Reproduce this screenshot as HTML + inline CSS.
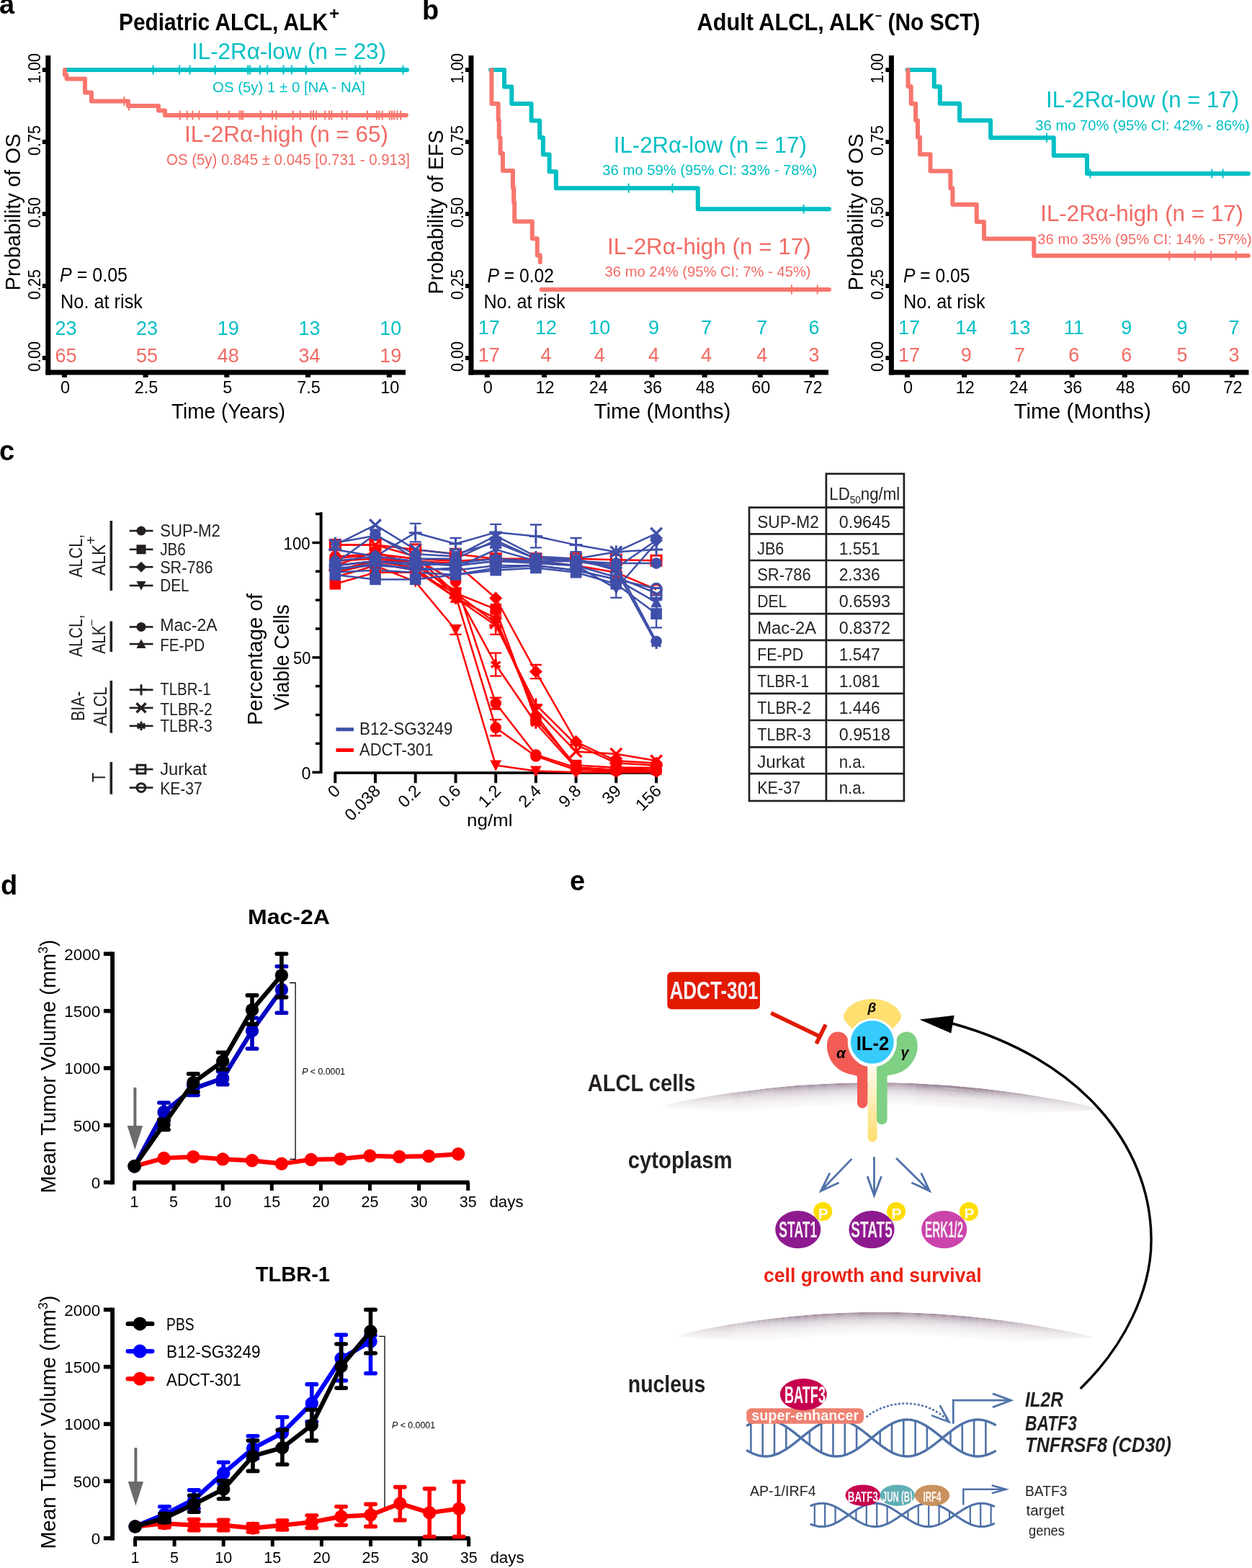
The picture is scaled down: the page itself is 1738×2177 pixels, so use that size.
<!DOCTYPE html>
<html><head><meta charset="utf-8"><title>Figure</title>
<style>
html,body{margin:0;padding:0;background:#fff;}
svg{display:block;}
text{font-family:"Liberation Sans", Arial, sans-serif;}
</style></head><body>
<svg width="1738" height="2177" viewBox="0 0 1738 2177">
<rect width="1738" height="2177" fill="#fff"/>
<text x="-1.0" y="19.0" font-size="38" fill="#000" font-weight="bold" >a</text>
<text x="165.0" y="42.0" font-size="33" fill="#000" font-weight="bold" textLength="290.0" lengthAdjust="spacingAndGlyphs" >Pediatric ALCL, ALK</text>
<text x="457.0" y="27.0" font-size="24" fill="#000" font-weight="bold" >+</text>
<rect x="63.3" y="77.0" width="7.0" height="443.5" fill="#000" />
<rect x="63.3" y="513.5" width="499.7" height="7.0" fill="#000" />
<rect x="58.8" y="94.0" width="5.0" height="6.0" fill="#000" />
<text transform="translate(55.8,95.0) rotate(-90)" font-size="24" fill="#000" text-anchor="middle" textLength="42.0" lengthAdjust="spacingAndGlyphs" >1.00</text>
<rect x="58.8" y="194.0" width="5.0" height="6.0" fill="#000" />
<text transform="translate(55.8,195.0) rotate(-90)" font-size="24" fill="#000" text-anchor="middle" textLength="42.0" lengthAdjust="spacingAndGlyphs" >0.75</text>
<rect x="58.8" y="294.0" width="5.0" height="6.0" fill="#000" />
<text transform="translate(55.8,295.0) rotate(-90)" font-size="24" fill="#000" text-anchor="middle" textLength="42.0" lengthAdjust="spacingAndGlyphs" >0.50</text>
<rect x="58.8" y="394.0" width="5.0" height="6.0" fill="#000" />
<text transform="translate(55.8,395.0) rotate(-90)" font-size="24" fill="#000" text-anchor="middle" textLength="42.0" lengthAdjust="spacingAndGlyphs" >0.25</text>
<rect x="58.8" y="494.0" width="5.0" height="6.0" fill="#000" />
<text transform="translate(55.8,495.0) rotate(-90)" font-size="24" fill="#000" text-anchor="middle" textLength="42.0" lengthAdjust="spacingAndGlyphs" >0.00</text>
<rect x="86.0" y="519.0" width="7.0" height="5.0" fill="#000" />
<text x="90.5" y="546.0" font-size="23.5" fill="#000" text-anchor="middle" >0</text>
<rect x="198.6" y="519.0" width="7.0" height="5.0" fill="#000" />
<text x="203.1" y="546.0" font-size="23.5" fill="#000" text-anchor="middle" >2.5</text>
<rect x="311.3" y="519.0" width="7.0" height="5.0" fill="#000" />
<text x="315.8" y="546.0" font-size="23.5" fill="#000" text-anchor="middle" >5</text>
<rect x="424.0" y="519.0" width="7.0" height="5.0" fill="#000" />
<text x="428.5" y="546.0" font-size="23.5" fill="#000" text-anchor="middle" >7.5</text>
<rect x="536.8" y="519.0" width="7.0" height="5.0" fill="#000" />
<text x="541.3" y="546.0" font-size="23.5" fill="#000" text-anchor="middle" >10</text>
<text transform="translate(27.8,294.5) rotate(-90)" font-size="30" fill="#000" text-anchor="middle" textLength="218.0" lengthAdjust="spacingAndGlyphs" >Probability of OS</text>
<text x="238.0" y="580.5" font-size="30" fill="#000" textLength="158.0" lengthAdjust="spacingAndGlyphs" >Time (Years)</text>
<path d="M90.5 97 H565" stroke="#00BFC4" stroke-width="6" fill="none" stroke-linejoin="round" stroke-linecap="round"/>
<line x1="212.6" y1="90.5" x2="212.6" y2="103.5" stroke="#00BFC4" stroke-width="2" />
<line x1="249.1" y1="90.5" x2="249.1" y2="103.5" stroke="#00BFC4" stroke-width="2" />
<line x1="263.5" y1="90.5" x2="263.5" y2="103.5" stroke="#00BFC4" stroke-width="2" />
<line x1="298.6" y1="90.5" x2="298.6" y2="103.5" stroke="#00BFC4" stroke-width="2" />
<line x1="344.2" y1="90.5" x2="344.2" y2="103.5" stroke="#00BFC4" stroke-width="2" />
<line x1="346.9" y1="90.5" x2="346.9" y2="103.5" stroke="#00BFC4" stroke-width="2" />
<line x1="360.8" y1="90.5" x2="360.8" y2="103.5" stroke="#00BFC4" stroke-width="2" />
<line x1="371.2" y1="90.5" x2="371.2" y2="103.5" stroke="#00BFC4" stroke-width="2" />
<line x1="393.6" y1="90.5" x2="393.6" y2="103.5" stroke="#00BFC4" stroke-width="2" />
<line x1="404.8" y1="90.5" x2="404.8" y2="103.5" stroke="#00BFC4" stroke-width="2" />
<line x1="424.8" y1="90.5" x2="424.8" y2="103.5" stroke="#00BFC4" stroke-width="2" />
<line x1="493.5" y1="90.5" x2="493.5" y2="103.5" stroke="#00BFC4" stroke-width="2" />
<line x1="499.5" y1="90.5" x2="499.5" y2="103.5" stroke="#00BFC4" stroke-width="2" />
<line x1="559.5" y1="90.5" x2="559.5" y2="103.5" stroke="#00BFC4" stroke-width="2" />
<path d="M90 97 V104 H92.5 V109.5 H118 V128.5 H127 V140.5 H178 V147 H220 V153.5 H229 V160 H564" stroke="#F8766D" stroke-width="6" fill="none" stroke-linejoin="round" stroke-linecap="round"/>
<line x1="172.5" y1="134.0" x2="172.5" y2="147.0" stroke="#F8766D" stroke-width="2" />
<line x1="179.0" y1="140.5" x2="179.0" y2="153.5" stroke="#F8766D" stroke-width="2" />
<line x1="250.0" y1="153.5" x2="250.0" y2="166.5" stroke="#F8766D" stroke-width="2" />
<line x1="259.7" y1="153.5" x2="259.7" y2="166.5" stroke="#F8766D" stroke-width="2" />
<line x1="267.4" y1="153.5" x2="267.4" y2="166.5" stroke="#F8766D" stroke-width="2" />
<line x1="276.4" y1="153.5" x2="276.4" y2="166.5" stroke="#F8766D" stroke-width="2" />
<line x1="301.5" y1="153.5" x2="301.5" y2="166.5" stroke="#F8766D" stroke-width="2" />
<line x1="317.8" y1="153.5" x2="317.8" y2="166.5" stroke="#F8766D" stroke-width="2" />
<line x1="332.5" y1="153.5" x2="332.5" y2="166.5" stroke="#F8766D" stroke-width="2" />
<line x1="335.0" y1="153.5" x2="335.0" y2="166.5" stroke="#F8766D" stroke-width="2" />
<line x1="337.4" y1="153.5" x2="337.4" y2="166.5" stroke="#F8766D" stroke-width="2" />
<line x1="361.8" y1="153.5" x2="361.8" y2="166.5" stroke="#F8766D" stroke-width="2" />
<line x1="378.1" y1="153.5" x2="378.1" y2="166.5" stroke="#F8766D" stroke-width="2" />
<line x1="383.5" y1="153.5" x2="383.5" y2="166.5" stroke="#F8766D" stroke-width="2" />
<line x1="406.6" y1="153.5" x2="406.6" y2="166.5" stroke="#F8766D" stroke-width="2" />
<line x1="416.8" y1="153.5" x2="416.8" y2="166.5" stroke="#F8766D" stroke-width="2" />
<line x1="431.5" y1="153.5" x2="431.5" y2="166.5" stroke="#F8766D" stroke-width="2" />
<line x1="435.0" y1="153.5" x2="435.0" y2="166.5" stroke="#F8766D" stroke-width="2" />
<line x1="439.1" y1="153.5" x2="439.1" y2="166.5" stroke="#F8766D" stroke-width="2" />
<line x1="451.3" y1="153.5" x2="451.3" y2="166.5" stroke="#F8766D" stroke-width="2" />
<line x1="457.0" y1="153.5" x2="457.0" y2="166.5" stroke="#F8766D" stroke-width="2" />
<line x1="460.3" y1="153.5" x2="460.3" y2="166.5" stroke="#F8766D" stroke-width="2" />
<line x1="474.9" y1="153.5" x2="474.9" y2="166.5" stroke="#F8766D" stroke-width="2" />
<line x1="481.4" y1="153.5" x2="481.4" y2="166.5" stroke="#F8766D" stroke-width="2" />
<line x1="509.9" y1="153.5" x2="509.9" y2="166.5" stroke="#F8766D" stroke-width="2" />
<line x1="522.9" y1="153.5" x2="522.9" y2="166.5" stroke="#F8766D" stroke-width="2" />
<line x1="526.2" y1="153.5" x2="526.2" y2="166.5" stroke="#F8766D" stroke-width="2" />
<line x1="530.7" y1="153.5" x2="530.7" y2="166.5" stroke="#F8766D" stroke-width="2" />
<line x1="540.8" y1="153.5" x2="540.8" y2="166.5" stroke="#F8766D" stroke-width="2" />
<line x1="544.0" y1="153.5" x2="544.0" y2="166.5" stroke="#F8766D" stroke-width="2" />
<line x1="547.2" y1="153.5" x2="547.2" y2="166.5" stroke="#F8766D" stroke-width="2" />
<line x1="551.4" y1="153.5" x2="551.4" y2="166.5" stroke="#F8766D" stroke-width="2" />
<line x1="556.2" y1="153.5" x2="556.2" y2="166.5" stroke="#F8766D" stroke-width="2" />
<text x="266.0" y="82.0" font-size="32" fill="#00BFC4" textLength="270.0" lengthAdjust="spacingAndGlyphs" >IL-2Rα-low (n = 23)</text>
<text x="295.0" y="128.0" font-size="21" fill="#00BFC4" textLength="212.0" lengthAdjust="spacingAndGlyphs" >OS (5y) 1 ± 0 [NA - NA]</text>
<text x="256.0" y="197.2" font-size="31.5" fill="#F26A64" textLength="283.0" lengthAdjust="spacingAndGlyphs" >IL-2Rα-high (n = 65)</text>
<text x="231.0" y="229.2" font-size="22" fill="#F26A64" textLength="338.0" lengthAdjust="spacingAndGlyphs" >OS (5y) 0.845 ± 0.045 [0.731 - 0.913]</text>
<text x="83.0" y="391.2" font-size="27.5" fill="#000" textLength="94.0" lengthAdjust="spacingAndGlyphs" ><tspan font-style="italic">P</tspan> = 0.05</text>
<text x="84.0" y="428.0" font-size="27.5" fill="#000" textLength="114.0" lengthAdjust="spacingAndGlyphs" >No. at risk</text>
<text x="91.5" y="464.5" font-size="27" fill="#00BFC4" text-anchor="middle" >23</text>
<text x="91.5" y="502.5" font-size="27" fill="#F26A64" text-anchor="middle" >65</text>
<text x="204.1" y="464.5" font-size="27" fill="#00BFC4" text-anchor="middle" >23</text>
<text x="204.1" y="502.5" font-size="27" fill="#F26A64" text-anchor="middle" >55</text>
<text x="316.8" y="464.5" font-size="27" fill="#00BFC4" text-anchor="middle" >19</text>
<text x="316.8" y="502.5" font-size="27" fill="#F26A64" text-anchor="middle" >48</text>
<text x="429.5" y="464.5" font-size="27" fill="#00BFC4" text-anchor="middle" >13</text>
<text x="429.5" y="502.5" font-size="27" fill="#F26A64" text-anchor="middle" >34</text>
<text x="542.3" y="464.5" font-size="27" fill="#00BFC4" text-anchor="middle" >10</text>
<text x="542.3" y="502.5" font-size="27" fill="#F26A64" text-anchor="middle" >19</text>
<text x="586.0" y="27.0" font-size="38" fill="#000" font-weight="bold" >b</text>
<text x="967.6" y="42.0" font-size="33" fill="#000" font-weight="bold" textLength="246.5" lengthAdjust="spacingAndGlyphs" >Adult ALCL, ALK</text>
<text x="1215.0" y="27.0" font-size="18" fill="#000" font-weight="bold" textLength="9.0" lengthAdjust="spacingAndGlyphs" >–</text>
<text x="1232.5" y="42.0" font-size="33" fill="#000" font-weight="bold" textLength="128.0" lengthAdjust="spacingAndGlyphs" >(No SCT)</text>
<rect x="650.5" y="77.0" width="7.0" height="443.5" fill="#000" />
<rect x="650.5" y="513.5" width="499.5" height="7.0" fill="#000" />
<rect x="646.0" y="94.0" width="5.0" height="6.0" fill="#000" />
<text transform="translate(643.0,95.0) rotate(-90)" font-size="24" fill="#000" text-anchor="middle" textLength="42.0" lengthAdjust="spacingAndGlyphs" >1.00</text>
<rect x="646.0" y="194.0" width="5.0" height="6.0" fill="#000" />
<text transform="translate(643.0,195.0) rotate(-90)" font-size="24" fill="#000" text-anchor="middle" textLength="42.0" lengthAdjust="spacingAndGlyphs" >0.75</text>
<rect x="646.0" y="294.0" width="5.0" height="6.0" fill="#000" />
<text transform="translate(643.0,295.0) rotate(-90)" font-size="24" fill="#000" text-anchor="middle" textLength="42.0" lengthAdjust="spacingAndGlyphs" >0.50</text>
<rect x="646.0" y="394.0" width="5.0" height="6.0" fill="#000" />
<text transform="translate(643.0,395.0) rotate(-90)" font-size="24" fill="#000" text-anchor="middle" textLength="42.0" lengthAdjust="spacingAndGlyphs" >0.25</text>
<rect x="646.0" y="494.0" width="5.0" height="6.0" fill="#000" />
<text transform="translate(643.0,495.0) rotate(-90)" font-size="24" fill="#000" text-anchor="middle" textLength="42.0" lengthAdjust="spacingAndGlyphs" >0.00</text>
<rect x="672.8" y="519.0" width="7.0" height="5.0" fill="#000" />
<text x="677.3" y="546.0" font-size="23.5" fill="#000" text-anchor="middle" >0</text>
<rect x="752.0" y="519.0" width="7.0" height="5.0" fill="#000" />
<text x="756.5" y="546.0" font-size="23.5" fill="#000" text-anchor="middle" >12</text>
<rect x="826.3" y="519.0" width="7.0" height="5.0" fill="#000" />
<text x="830.8" y="546.0" font-size="23.5" fill="#000" text-anchor="middle" >24</text>
<rect x="901.5" y="519.0" width="7.0" height="5.0" fill="#000" />
<text x="906.0" y="546.0" font-size="23.5" fill="#000" text-anchor="middle" >36</text>
<rect x="974.6" y="519.0" width="7.0" height="5.0" fill="#000" />
<text x="979.1" y="546.0" font-size="23.5" fill="#000" text-anchor="middle" >48</text>
<rect x="1051.8" y="519.0" width="7.0" height="5.0" fill="#000" />
<text x="1056.3" y="546.0" font-size="23.5" fill="#000" text-anchor="middle" >60</text>
<rect x="1123.9" y="519.0" width="7.0" height="5.0" fill="#000" />
<text x="1128.4" y="546.0" font-size="23.5" fill="#000" text-anchor="middle" >72</text>
<text transform="translate(615.0,294.5) rotate(-90)" font-size="30" fill="#000" text-anchor="middle" textLength="228.0" lengthAdjust="spacingAndGlyphs" >Probability of EFS</text>
<text x="824.4" y="580.5" font-size="30" fill="#000" textLength="190.0" lengthAdjust="spacingAndGlyphs" >Time (Months)</text>
<path d="M681 97 H700 V120.5 H710.3 V144 H737.6 V167.6 H749.2 V191 H753.9 V214.6 H762.6 V238.2 H771.9 V261.2 H968.8 V290.3 H1151" stroke="#00BFC4" stroke-width="6" fill="none" stroke-linejoin="round" stroke-linecap="round"/>
<line x1="872.7" y1="254.7" x2="872.7" y2="267.7" stroke="#00BFC4" stroke-width="2" />
<line x1="933.5" y1="254.7" x2="933.5" y2="267.7" stroke="#00BFC4" stroke-width="2" />
<line x1="1115.6" y1="283.8" x2="1115.6" y2="296.8" stroke="#00BFC4" stroke-width="2" />
<path d="M682.4 97 V144 H691.7 V167 H692.7 V191 H694.6 V213 H698 V237 H712 V261 H713.2 V281 H714.2 V307.5 H738.8 V331.3 H745.8 V354.6 H749.8 V364" stroke="#F8766D" stroke-width="6" fill="none" stroke-linejoin="round" stroke-linecap="round"/>
<path d="M751.6 402 H1151" stroke="#F8766D" stroke-width="6" fill="none" stroke-linejoin="round" stroke-linecap="round"/>
<line x1="1099.0" y1="395.5" x2="1099.0" y2="408.5" stroke="#F8766D" stroke-width="2" />
<line x1="1134.8" y1="395.5" x2="1134.8" y2="408.5" stroke="#F8766D" stroke-width="2" />
<text x="851.8" y="211.9" font-size="32" fill="#00BFC4" textLength="268.0" lengthAdjust="spacingAndGlyphs" >IL-2Rα-low (n = 17)</text>
<text x="836.3" y="242.8" font-size="21" fill="#00BFC4" textLength="298.0" lengthAdjust="spacingAndGlyphs" >36 mo 59% (95% CI: 33% - 78%)</text>
<text x="843.0" y="353.2" font-size="31.5" fill="#F26A64" textLength="282.6" lengthAdjust="spacingAndGlyphs" >IL-2Rα-high (n = 17)</text>
<text x="839.6" y="384.1" font-size="21" fill="#F26A64" textLength="286.0" lengthAdjust="spacingAndGlyphs" >36 mo 24% (95% CI: 7% - 45%)</text>
<text x="676.6" y="391.8" font-size="27.5" fill="#000" textLength="92.4" lengthAdjust="spacingAndGlyphs" ><tspan font-style="italic">P</tspan> = 0.02</text>
<text x="671.4" y="427.8" font-size="27.5" fill="#000" textLength="113.3" lengthAdjust="spacingAndGlyphs" >No. at risk</text>
<text x="678.8" y="464.0" font-size="27" fill="#00BFC4" text-anchor="middle" >17</text>
<text x="678.8" y="501.5" font-size="27" fill="#F26A64" text-anchor="middle" >17</text>
<text x="758.0" y="464.0" font-size="27" fill="#00BFC4" text-anchor="middle" >12</text>
<text x="758.0" y="501.5" font-size="27" fill="#F26A64" text-anchor="middle" >4</text>
<text x="832.3" y="464.0" font-size="27" fill="#00BFC4" text-anchor="middle" >10</text>
<text x="832.3" y="501.5" font-size="27" fill="#F26A64" text-anchor="middle" >4</text>
<text x="907.5" y="464.0" font-size="27" fill="#00BFC4" text-anchor="middle" >9</text>
<text x="907.5" y="501.5" font-size="27" fill="#F26A64" text-anchor="middle" >4</text>
<text x="980.6" y="464.0" font-size="27" fill="#00BFC4" text-anchor="middle" >7</text>
<text x="980.6" y="501.5" font-size="27" fill="#F26A64" text-anchor="middle" >4</text>
<text x="1057.8" y="464.0" font-size="27" fill="#00BFC4" text-anchor="middle" >7</text>
<text x="1057.8" y="501.5" font-size="27" fill="#F26A64" text-anchor="middle" >4</text>
<text x="1129.9" y="464.0" font-size="27" fill="#00BFC4" text-anchor="middle" >6</text>
<text x="1129.9" y="501.5" font-size="27" fill="#F26A64" text-anchor="middle" >3</text>
<rect x="1233.9" y="77.0" width="7.0" height="443.5" fill="#000" />
<rect x="1233.9" y="513.5" width="499.6" height="7.0" fill="#000" />
<rect x="1229.4" y="94.0" width="5.0" height="6.0" fill="#000" />
<text transform="translate(1226.4,95.0) rotate(-90)" font-size="24" fill="#000" text-anchor="middle" textLength="42.0" lengthAdjust="spacingAndGlyphs" >1.00</text>
<rect x="1229.4" y="194.0" width="5.0" height="6.0" fill="#000" />
<text transform="translate(1226.4,195.0) rotate(-90)" font-size="24" fill="#000" text-anchor="middle" textLength="42.0" lengthAdjust="spacingAndGlyphs" >0.75</text>
<rect x="1229.4" y="294.0" width="5.0" height="6.0" fill="#000" />
<text transform="translate(1226.4,295.0) rotate(-90)" font-size="24" fill="#000" text-anchor="middle" textLength="42.0" lengthAdjust="spacingAndGlyphs" >0.50</text>
<rect x="1229.4" y="394.0" width="5.0" height="6.0" fill="#000" />
<text transform="translate(1226.4,395.0) rotate(-90)" font-size="24" fill="#000" text-anchor="middle" textLength="42.0" lengthAdjust="spacingAndGlyphs" >0.25</text>
<rect x="1229.4" y="494.0" width="5.0" height="6.0" fill="#000" />
<text transform="translate(1226.4,495.0) rotate(-90)" font-size="24" fill="#000" text-anchor="middle" textLength="42.0" lengthAdjust="spacingAndGlyphs" >0.00</text>
<rect x="1256.0" y="519.0" width="7.0" height="5.0" fill="#000" />
<text x="1260.5" y="546.0" font-size="23.5" fill="#000" text-anchor="middle" >0</text>
<rect x="1335.2" y="519.0" width="7.0" height="5.0" fill="#000" />
<text x="1339.7" y="546.0" font-size="23.5" fill="#000" text-anchor="middle" >12</text>
<rect x="1409.5" y="519.0" width="7.0" height="5.0" fill="#000" />
<text x="1414.0" y="546.0" font-size="23.5" fill="#000" text-anchor="middle" >24</text>
<rect x="1484.7" y="519.0" width="7.0" height="5.0" fill="#000" />
<text x="1489.2" y="546.0" font-size="23.5" fill="#000" text-anchor="middle" >36</text>
<rect x="1557.8" y="519.0" width="7.0" height="5.0" fill="#000" />
<text x="1562.3" y="546.0" font-size="23.5" fill="#000" text-anchor="middle" >48</text>
<rect x="1635.0" y="519.0" width="7.0" height="5.0" fill="#000" />
<text x="1639.5" y="546.0" font-size="23.5" fill="#000" text-anchor="middle" >60</text>
<rect x="1707.1" y="519.0" width="7.0" height="5.0" fill="#000" />
<text x="1711.6" y="546.0" font-size="23.5" fill="#000" text-anchor="middle" >72</text>
<text transform="translate(1198.4,294.5) rotate(-90)" font-size="30" fill="#000" text-anchor="middle" textLength="218.0" lengthAdjust="spacingAndGlyphs" >Probability of OS</text>
<text x="1407.4" y="580.5" font-size="30" fill="#000" textLength="190.4" lengthAdjust="spacingAndGlyphs" >Time (Months)</text>
<path d="M1259.5 97 H1296.7 V120.3 H1304.8 V143.8 H1332.1 V167.3 H1375.1 V191.3 H1462.8 V215.9 H1509 V241 H1733" stroke="#00BFC4" stroke-width="6" fill="none" stroke-linejoin="round" stroke-linecap="round"/>
<line x1="1453.0" y1="184.8" x2="1453.0" y2="197.8" stroke="#00BFC4" stroke-width="2" />
<line x1="1513.5" y1="234.5" x2="1513.5" y2="247.5" stroke="#00BFC4" stroke-width="2" />
<line x1="1682.2" y1="234.5" x2="1682.2" y2="247.5" stroke="#00BFC4" stroke-width="2" />
<line x1="1697.5" y1="234.5" x2="1697.5" y2="247.5" stroke="#00BFC4" stroke-width="2" />
<path d="M1260.5 97 V120 H1264.7 V143.9 H1271.1 V167.2 H1274 V190.4 H1277 V214.2 H1291.5 V237.5 H1319.4 V261.3 H1322.4 V284.1 H1355.8 V308.1 H1366 V331.6 H1435.3 V354.9 H1733" stroke="#F8766D" stroke-width="6" fill="none" stroke-linejoin="round" stroke-linecap="round"/>
<line x1="1623.3" y1="348.4" x2="1623.3" y2="361.4" stroke="#F8766D" stroke-width="2" />
<line x1="1658.6" y1="348.4" x2="1658.6" y2="361.4" stroke="#F8766D" stroke-width="2" />
<line x1="1681.2" y1="348.4" x2="1681.2" y2="361.4" stroke="#F8766D" stroke-width="2" />
<line x1="1715.8" y1="348.4" x2="1715.8" y2="361.4" stroke="#F8766D" stroke-width="2" />
<text x="1452.0" y="149.1" font-size="32" fill="#00BFC4" textLength="268.0" lengthAdjust="spacingAndGlyphs" >IL-2Rα-low (n = 17)</text>
<text x="1437.3" y="180.5" font-size="21" fill="#00BFC4" textLength="297.5" lengthAdjust="spacingAndGlyphs" >36 mo 70% (95% CI: 42% - 86%)</text>
<text x="1444.2" y="307.2" font-size="31.5" fill="#F26A64" textLength="281.8" lengthAdjust="spacingAndGlyphs" >IL-2Rα-high (n = 17)</text>
<text x="1440.3" y="338.6" font-size="21" fill="#F26A64" textLength="297.5" lengthAdjust="spacingAndGlyphs" >36 mo 35% (95% CI: 14% - 57%)</text>
<text x="1254.1" y="391.6" font-size="27.5" fill="#000" textLength="92.3" lengthAdjust="spacingAndGlyphs" ><tspan font-style="italic">P</tspan> = 0.05</text>
<text x="1254.0" y="427.5" font-size="27.5" fill="#000" textLength="113.6" lengthAdjust="spacingAndGlyphs" >No. at risk</text>
<text x="1262.0" y="464.0" font-size="27" fill="#00BFC4" text-anchor="middle" >17</text>
<text x="1262.0" y="501.5" font-size="27" fill="#F26A64" text-anchor="middle" >17</text>
<text x="1341.2" y="464.0" font-size="27" fill="#00BFC4" text-anchor="middle" >14</text>
<text x="1341.2" y="501.5" font-size="27" fill="#F26A64" text-anchor="middle" >9</text>
<text x="1415.5" y="464.0" font-size="27" fill="#00BFC4" text-anchor="middle" >13</text>
<text x="1415.5" y="501.5" font-size="27" fill="#F26A64" text-anchor="middle" >7</text>
<text x="1490.7" y="464.0" font-size="27" fill="#00BFC4" text-anchor="middle" >11</text>
<text x="1490.7" y="501.5" font-size="27" fill="#F26A64" text-anchor="middle" >6</text>
<text x="1563.8" y="464.0" font-size="27" fill="#00BFC4" text-anchor="middle" >9</text>
<text x="1563.8" y="501.5" font-size="27" fill="#F26A64" text-anchor="middle" >6</text>
<text x="1641.0" y="464.0" font-size="27" fill="#00BFC4" text-anchor="middle" >9</text>
<text x="1641.0" y="501.5" font-size="27" fill="#F26A64" text-anchor="middle" >5</text>
<text x="1713.1" y="464.0" font-size="27" fill="#00BFC4" text-anchor="middle" >7</text>
<text x="1713.1" y="501.5" font-size="27" fill="#F26A64" text-anchor="middle" >3</text>
<text x="-1.0" y="638.5" font-size="38" fill="#000" font-weight="bold" >c</text>
<rect x="152.5" y="723.0" width="3.6" height="97.0" fill="#231F20" />
<rect x="152.5" y="862.5" width="3.6" height="42.5" fill="#231F20" />
<rect x="152.5" y="945.0" width="3.6" height="72.6" fill="#231F20" />
<rect x="152.5" y="1058.0" width="3.6" height="44.7" fill="#231F20" />
<text transform="translate(114.2,771.8) rotate(-90)" font-size="26" fill="#231F20" text-anchor="middle" textLength="60.0" lengthAdjust="spacingAndGlyphs" >ALCL,</text>
<text transform="translate(146.2,777.4) rotate(-90)" font-size="26" fill="#231F20" text-anchor="middle" textLength="43.2" lengthAdjust="spacingAndGlyphs" >ALK</text>
<text transform="translate(133.0,750.2) rotate(-90)" font-size="20" fill="#231F20" text-anchor="middle" >+</text>
<text transform="translate(114.2,882.7) rotate(-90)" font-size="26" fill="#231F20" text-anchor="middle" textLength="58.6" lengthAdjust="spacingAndGlyphs" >ALCL,</text>
<text transform="translate(146.2,888.0) rotate(-90)" font-size="26" fill="#231F20" text-anchor="middle" textLength="39.5" lengthAdjust="spacingAndGlyphs" >ALK</text>
<text transform="translate(131.0,864.5) rotate(-90)" font-size="15" fill="#231F20" text-anchor="middle" >–</text>
<text transform="translate(117.0,980.3) rotate(-90)" font-size="26" fill="#231F20" text-anchor="middle" textLength="41.2" lengthAdjust="spacingAndGlyphs" >BIA-</text>
<text transform="translate(148.3,980.7) rotate(-90)" font-size="26" fill="#231F20" text-anchor="middle" textLength="54.4" lengthAdjust="spacingAndGlyphs" >ALCL</text>
<text transform="translate(145.5,1079.4) rotate(-90)" font-size="26" fill="#231F20" text-anchor="middle" textLength="13.3" lengthAdjust="spacingAndGlyphs" >T</text>
<rect x="179.7" y="735.7" width="32.8" height="2.6" fill="#231F20" />
<circle cx="196.0" cy="737.0" r="6.5" fill="#231F20"/>
<text x="222.2" y="744.6" font-size="24.3" fill="#231F20" textLength="83.7" lengthAdjust="spacingAndGlyphs" >SUP-M2</text>
<rect x="179.7" y="761.5" width="32.8" height="2.6" fill="#231F20" />
<rect x="189.5" y="756.3" width="13.0" height="13.0" fill="#231F20"/>
<text x="222.2" y="771.1" font-size="24.3" fill="#231F20" textLength="35.6" lengthAdjust="spacingAndGlyphs" >JB6</text>
<rect x="179.7" y="785.9" width="32.8" height="2.6" fill="#231F20" />
<path d="M196.0 779.7 L203.5 787.2 L196.0 794.7 L188.5 787.2Z" fill="#231F20"/>
<text x="222.2" y="796.2" font-size="24.3" fill="#231F20" textLength="73.3" lengthAdjust="spacingAndGlyphs" >SR-786</text>
<rect x="179.7" y="811.7" width="32.8" height="2.6" fill="#231F20" />
<path d="M189.5 807.1 L202.5 807.1 L196.0 819.8Z" fill="#231F20"/>
<text x="222.2" y="821.3" font-size="24.3" fill="#231F20" textLength="40.4" lengthAdjust="spacingAndGlyphs" >DEL</text>
<rect x="179.7" y="869.1" width="32.8" height="2.6" fill="#231F20" />
<circle cx="196.0" cy="870.4" r="6.5" fill="#231F20"/>
<text x="222.2" y="876.4" font-size="24.3" fill="#231F20" textLength="79.4" lengthAdjust="spacingAndGlyphs" >Mac-2A</text>
<rect x="179.7" y="892.8" width="32.8" height="2.6" fill="#231F20" />
<path d="M189.5 900.0 L202.5 900.0 L196.0 887.3Z" fill="#231F20"/>
<text x="222.2" y="904.3" font-size="24.3" fill="#231F20" textLength="62.0" lengthAdjust="spacingAndGlyphs" >FE-PD</text>
<rect x="179.7" y="956.4" width="32.8" height="2.6" fill="#231F20" />
<path d="M188.5 957.7 H203.5 M196.0 950.2 V965.2" stroke="#231F20" stroke-width="3.0"/>
<text x="222.2" y="965.3" font-size="24.3" fill="#231F20" textLength="70.5" lengthAdjust="spacingAndGlyphs" >TLBR-1</text>
<rect x="179.7" y="981.5" width="32.8" height="2.6" fill="#231F20" />
<path d="M189.5 976.3 L202.5 989.3 M202.5 976.3 L189.5 989.3" stroke="#231F20" stroke-width="3.4"/>
<text x="222.2" y="992.5" font-size="24.3" fill="#231F20" textLength="72.5" lengthAdjust="spacingAndGlyphs" >TLBR-2</text>
<rect x="179.7" y="1006.6" width="32.8" height="2.6" fill="#231F20" />
<path d="M196.0 1001.7 L196.0 1014.1 M190.7 1004.8 L201.3 1011.0 M190.7 1011.0 L201.3 1004.8 " stroke="#231F20" stroke-width="3.2"/>
<text x="222.2" y="1016.2" font-size="24.3" fill="#231F20" textLength="72.5" lengthAdjust="spacingAndGlyphs" >TLBR-3</text>
<rect x="179.7" y="1066.8" width="32.8" height="2.6" fill="#231F20" />
<rect x="190.2" y="1062.2" width="11.7" height="11.7" fill="none" stroke="#231F20" stroke-width="3.0"/>
<text x="222.2" y="1076.2" font-size="24.3" fill="#231F20" textLength="64.9" lengthAdjust="spacingAndGlyphs" >Jurkat</text>
<rect x="179.7" y="1092.3" width="32.8" height="2.6" fill="#231F20" />
<circle cx="196.0" cy="1093.6" r="5.9" fill="none" stroke="#231F20" stroke-width="3.0"/>
<text x="222.2" y="1102.7" font-size="24.3" fill="#231F20" textLength="58.5" lengthAdjust="spacingAndGlyphs" >KE-37</text>
<rect x="443.6" y="711.2" width="4.0" height="362.7" fill="#000" />
<rect x="433.4" y="1070.5" width="11.0" height="3.5" fill="#000" />
<rect x="437.9" y="1030.6" width="6.5" height="3.5" fill="#000" />
<rect x="437.9" y="990.8" width="6.5" height="3.5" fill="#000" />
<rect x="437.9" y="950.9" width="6.5" height="3.5" fill="#000" />
<rect x="433.4" y="911.1" width="11.0" height="3.5" fill="#000" />
<rect x="437.9" y="871.2" width="6.5" height="3.5" fill="#000" />
<rect x="437.9" y="831.4" width="6.5" height="3.5" fill="#000" />
<rect x="437.9" y="791.5" width="6.5" height="3.5" fill="#000" />
<rect x="433.4" y="751.7" width="11.0" height="3.5" fill="#000" />
<rect x="437.9" y="711.8" width="6.5" height="3.5" fill="#000" />
<text x="430.6" y="762.8" font-size="23.4" fill="#000" text-anchor="end" textLength="37.0" lengthAdjust="spacingAndGlyphs" >100</text>
<text x="431.4" y="922.2" font-size="23.4" fill="#000" text-anchor="end" textLength="24.5" lengthAdjust="spacingAndGlyphs" >50</text>
<text x="431.4" y="1082.3" font-size="23.4" fill="#000" text-anchor="end" >0</text>
<rect x="464.1" y="1071.2" width="448.8" height="3.6" fill="#000" />
<rect x="463.3" y="1073.0" width="4.0" height="14.2" fill="#000" />
<text transform="translate(473.8,1099.5) rotate(-45)" font-size="23.5" text-anchor="end" fill="#000">0</text>
<rect x="519.0" y="1073.0" width="4.0" height="14.2" fill="#000" />
<text transform="translate(529.5,1099.5) rotate(-45)" font-size="23.5" text-anchor="end" fill="#000">0.038</text>
<rect x="574.7" y="1073.0" width="4.0" height="14.2" fill="#000" />
<text transform="translate(585.2,1099.5) rotate(-45)" font-size="23.5" text-anchor="end" fill="#000">0.2</text>
<rect x="630.5" y="1073.0" width="4.0" height="14.2" fill="#000" />
<text transform="translate(641.0,1099.5) rotate(-45)" font-size="23.5" text-anchor="end" fill="#000">0.6</text>
<rect x="686.2" y="1073.0" width="4.0" height="14.2" fill="#000" />
<text transform="translate(696.7,1099.5) rotate(-45)" font-size="23.5" text-anchor="end" fill="#000">1.2</text>
<rect x="741.9" y="1073.0" width="4.0" height="14.2" fill="#000" />
<text transform="translate(752.4,1099.5) rotate(-45)" font-size="23.5" text-anchor="end" fill="#000">2.4</text>
<rect x="797.6" y="1073.0" width="4.0" height="14.2" fill="#000" />
<text transform="translate(808.1,1099.5) rotate(-45)" font-size="23.5" text-anchor="end" fill="#000">9.8</text>
<rect x="853.3" y="1073.0" width="4.0" height="14.2" fill="#000" />
<text transform="translate(863.8,1099.5) rotate(-45)" font-size="23.5" text-anchor="end" fill="#000">39</text>
<rect x="909.1" y="1073.0" width="4.0" height="14.2" fill="#000" />
<text transform="translate(919.6,1099.5) rotate(-45)" font-size="23.5" text-anchor="end" fill="#000">156</text>
<text transform="translate(363.5,915.5) rotate(-90)" font-size="30" fill="#000" text-anchor="middle" textLength="183.0" lengthAdjust="spacingAndGlyphs" >Percentage of</text>
<text transform="translate(401.0,912.8) rotate(-90)" font-size="30" fill="#000" text-anchor="middle" textLength="147.0" lengthAdjust="spacingAndGlyphs" >Viable Cells</text>
<text x="648.0" y="1147.0" font-size="24" fill="#000" textLength="63.5" lengthAdjust="spacingAndGlyphs" >ng/ml</text>
<polyline points="465.3,772.5 521.0,769.3 576.7,775.7 632.5,807.6 688.2,976.6 743.9,1048.0 799.6,1065.8 855.3,1069.0 911.1,1069.0" fill="none" stroke="#FF0000" stroke-width="2.5" stroke-linejoin="round"/>
<polyline points="465.3,810.8 521.0,794.8 576.7,794.8 632.5,823.5 688.2,845.9 743.9,998.9 799.6,1062.6 855.3,1065.8 911.1,1065.8" fill="none" stroke="#FF0000" stroke-width="2.5" stroke-linejoin="round"/>
<polyline points="465.3,785.3 521.0,778.9 576.7,778.9 632.5,782.1 688.2,830.5 743.9,932.6 799.6,1029.8 855.3,1056.3 911.1,1059.4" fill="none" stroke="#FF0000" stroke-width="2.5" stroke-linejoin="round"/>
<polyline points="465.3,801.2 521.0,785.3 576.7,807.6 632.5,874.5 688.2,1062.6 743.9,1070.6 799.6,1072.2 855.3,1072.2 911.1,1072.2" fill="none" stroke="#FF0000" stroke-width="2.5" stroke-linejoin="round"/>
<polyline points="465.3,778.9 521.0,775.7 576.7,778.9 632.5,826.7 688.2,1010.4 743.9,1049.9 799.6,1069.0 855.3,1070.6 911.1,1070.6" fill="none" stroke="#FF0000" stroke-width="2.5" stroke-linejoin="round"/>
<polyline points="465.3,794.8 521.0,782.1 576.7,791.7 632.5,829.9 688.2,858.6 743.9,992.5 799.6,1065.8 855.3,1069.0 911.1,1069.0" fill="none" stroke="#FF0000" stroke-width="2.5" stroke-linejoin="round"/>
<polyline points="465.3,791.7 521.0,778.9 576.7,788.5 632.5,829.9 688.2,868.2 743.9,978.5 799.6,1033.9 855.3,1059.4 911.1,1062.6" fill="none" stroke="#FF0000" stroke-width="2.5" stroke-linejoin="round"/>
<polyline points="465.3,756.6 521.0,756.6 576.7,772.5 632.5,823.5 688.2,865.0 743.9,986.1 799.6,1043.5 855.3,1046.7 911.1,1056.3" fill="none" stroke="#FF0000" stroke-width="2.5" stroke-linejoin="round"/>
<polyline points="465.3,785.3 521.0,766.2 576.7,785.3 632.5,820.3 688.2,922.7 743.9,1004.3 799.6,1065.8 855.3,1069.0 911.1,1065.8" fill="none" stroke="#FF0000" stroke-width="2.5" stroke-linejoin="round"/>
<polyline points="465.3,756.6 521.0,756.6 576.7,763.0 632.5,769.3 688.2,775.7 743.9,775.7 799.6,775.7 855.3,777.3 911.1,778.3" fill="none" stroke="#FF0000" stroke-width="2.5" stroke-linejoin="round"/>
<polyline points="465.3,775.7 521.0,769.3 576.7,775.7 632.5,778.9 688.2,775.7 743.9,778.9 799.6,785.3 855.3,794.8 911.1,818.4" fill="none" stroke="#FF0000" stroke-width="2.5" stroke-linejoin="round"/>
<polyline points="465.3,778.9 521.0,772.5 576.7,778.9 632.5,785.3 688.2,778.9 743.9,778.9 799.6,778.9 855.3,782.1 911.1,782.1" fill="none" stroke="#3F4FA9" stroke-width="2.5" stroke-linejoin="round"/>
<polyline points="465.3,798.0 521.0,804.4 576.7,804.4 632.5,798.0 688.2,791.7 743.9,788.5 799.6,794.8 855.3,810.8 911.1,852.2" fill="none" stroke="#3F4FA9" stroke-width="2.5" stroke-linejoin="round"/>
<polyline points="465.3,785.3 521.0,778.9 576.7,785.3 632.5,782.1 688.2,775.7 743.9,778.9 799.6,778.9 855.3,788.5 911.1,750.2" fill="none" stroke="#3F4FA9" stroke-width="2.5" stroke-linejoin="round"/>
<polyline points="465.3,791.7 521.0,782.1 576.7,791.7 632.5,788.5 688.2,763.0 743.9,778.9 799.6,785.3 855.3,817.2 911.1,753.4" fill="none" stroke="#3F4FA9" stroke-width="2.5" stroke-linejoin="round"/>
<polyline points="465.3,782.1 521.0,741.9 576.7,775.7 632.5,775.7 688.2,750.2 743.9,775.7 799.6,778.9 855.3,785.3 911.1,890.5" fill="none" stroke="#3F4FA9" stroke-width="2.5" stroke-linejoin="round"/>
<polyline points="465.3,794.8 521.0,791.7 576.7,794.8 632.5,798.0 688.2,788.5 743.9,785.3 799.6,791.7 855.3,804.4 911.1,836.3" fill="none" stroke="#3F4FA9" stroke-width="2.5" stroke-linejoin="round"/>
<polyline points="465.3,763.0 521.0,772.5 576.7,739.7 632.5,755.0 688.2,739.1 743.9,744.5 799.6,756.6 855.3,766.2 911.1,763.0" fill="none" stroke="#3F4FA9" stroke-width="2.5" stroke-linejoin="round"/>
<polyline points="465.3,756.6 521.0,728.9 576.7,763.0 632.5,769.3 688.2,753.4 743.9,775.7 799.6,775.7 855.3,766.2 911.1,740.6" fill="none" stroke="#3F4FA9" stroke-width="2.5" stroke-linejoin="round"/>
<polyline points="465.3,753.4 521.0,743.8 576.7,769.3 632.5,772.5 688.2,743.8 743.9,772.5 799.6,775.7 855.3,791.7 911.1,893.7" fill="none" stroke="#3F4FA9" stroke-width="2.5" stroke-linejoin="round"/>
<polyline points="465.3,785.3 521.0,778.9 576.7,782.1 632.5,785.3 688.2,778.9 743.9,782.1 799.6,785.3 855.3,801.2 911.1,823.5" fill="none" stroke="#3F4FA9" stroke-width="2.5" stroke-linejoin="round"/>
<polyline points="465.3,788.5 521.0,785.3 576.7,788.5 632.5,791.7 688.2,785.3 743.9,785.3 799.6,791.7 855.3,804.4 911.1,817.2" fill="none" stroke="#3F4FA9" stroke-width="2.5" stroke-linejoin="round"/>
<circle cx="465.3" cy="772.5" r="7.8" fill="#FF0000"/>
<circle cx="521.0" cy="769.3" r="7.8" fill="#FF0000"/>
<circle cx="576.7" cy="775.7" r="7.8" fill="#FF0000"/>
<circle cx="632.5" cy="807.6" r="7.8" fill="#FF0000"/>
<path d="M688.2 968.6 V984.5 M680.2 968.6 H696.2 M680.2 984.5 H696.2" stroke="#FF0000" stroke-width="2.3" fill="none"/>
<circle cx="688.2" cy="976.6" r="7.8" fill="#FF0000"/>
<circle cx="743.9" cy="1048.0" r="7.8" fill="#FF0000"/>
<circle cx="799.6" cy="1065.8" r="7.8" fill="#FF0000"/>
<circle cx="855.3" cy="1069.0" r="7.8" fill="#FF0000"/>
<circle cx="911.1" cy="1069.0" r="7.8" fill="#FF0000"/>
<rect x="457.5" y="803.0" width="15.6" height="15.6" fill="#FF0000"/>
<rect x="513.2" y="787.0" width="15.6" height="15.6" fill="#FF0000"/>
<rect x="568.9" y="787.0" width="15.6" height="15.6" fill="#FF0000"/>
<rect x="624.7" y="815.7" width="15.6" height="15.6" fill="#FF0000"/>
<rect x="680.4" y="838.1" width="15.6" height="15.6" fill="#FF0000"/>
<rect x="736.1" y="991.1" width="15.6" height="15.6" fill="#FF0000"/>
<rect x="791.8" y="1054.8" width="15.6" height="15.6" fill="#FF0000"/>
<rect x="847.5" y="1058.0" width="15.6" height="15.6" fill="#FF0000"/>
<rect x="903.3" y="1058.0" width="15.6" height="15.6" fill="#FF0000"/>
<path d="M465.3 776.3 L474.3 785.3 L465.3 794.2 L456.3 785.3Z" fill="#FF0000"/>
<path d="M521.0 769.9 L530.0 778.9 L521.0 787.9 L512.0 778.9Z" fill="#FF0000"/>
<path d="M576.7 769.9 L585.7 778.9 L576.7 787.9 L567.8 778.9Z" fill="#FF0000"/>
<path d="M632.5 773.1 L641.4 782.1 L632.5 791.1 L623.5 782.1Z" fill="#FF0000"/>
<path d="M688.2 821.6 L697.2 830.5 L688.2 839.5 L679.2 830.5Z" fill="#FF0000"/>
<path d="M743.9 923.0 V942.1 M735.9 923.0 H751.9 M735.9 942.1 H751.9" stroke="#FF0000" stroke-width="2.3" fill="none"/>
<path d="M743.9 923.6 L752.9 932.6 L743.9 941.5 L734.9 932.6Z" fill="#FF0000"/>
<path d="M799.6 1020.8 L808.6 1029.8 L799.6 1038.8 L790.6 1029.8Z" fill="#FF0000"/>
<path d="M855.3 1047.3 L864.3 1056.3 L855.3 1065.2 L846.4 1056.3Z" fill="#FF0000"/>
<path d="M911.1 1050.5 L920.0 1059.4 L911.1 1068.4 L902.1 1059.4Z" fill="#FF0000"/>
<path d="M457.5 794.2 L473.1 794.2 L465.3 809.4Z" fill="#FF0000"/>
<path d="M513.2 778.3 L528.8 778.3 L521.0 793.5Z" fill="#FF0000"/>
<path d="M568.9 800.6 L584.5 800.6 L576.7 815.8Z" fill="#FF0000"/>
<path d="M632.5 868.2 V880.9 M624.5 868.2 H640.5 M624.5 880.9 H640.5" stroke="#FF0000" stroke-width="2.3" fill="none"/>
<path d="M624.7 867.5 L640.3 867.5 L632.5 882.7Z" fill="#FF0000"/>
<path d="M680.4 1055.6 L696.0 1055.6 L688.2 1070.8Z" fill="#FF0000"/>
<path d="M736.1 1063.6 L751.7 1063.6 L743.9 1078.8Z" fill="#FF0000"/>
<path d="M791.8 1065.2 L807.4 1065.2 L799.6 1080.4Z" fill="#FF0000"/>
<path d="M847.5 1065.2 L863.1 1065.2 L855.3 1080.4Z" fill="#FF0000"/>
<path d="M903.3 1065.2 L918.9 1065.2 L911.1 1080.4Z" fill="#FF0000"/>
<circle cx="465.3" cy="778.9" r="7.8" fill="#FF0000"/>
<circle cx="521.0" cy="775.7" r="7.8" fill="#FF0000"/>
<circle cx="576.7" cy="778.9" r="7.8" fill="#FF0000"/>
<circle cx="632.5" cy="826.7" r="7.8" fill="#FF0000"/>
<path d="M688.2 999.2 V1021.5 M680.2 999.2 H696.2 M680.2 1021.5 H696.2" stroke="#FF0000" stroke-width="2.3" fill="none"/>
<circle cx="688.2" cy="1010.4" r="7.8" fill="#FF0000"/>
<circle cx="743.9" cy="1049.9" r="7.8" fill="#FF0000"/>
<circle cx="799.6" cy="1069.0" r="7.8" fill="#FF0000"/>
<circle cx="855.3" cy="1070.6" r="7.8" fill="#FF0000"/>
<circle cx="911.1" cy="1070.6" r="7.8" fill="#FF0000"/>
<path d="M457.5 801.9 L473.1 801.9 L465.3 786.7Z" fill="#FF0000"/>
<path d="M513.2 789.1 L528.8 789.1 L521.0 773.9Z" fill="#FF0000"/>
<path d="M568.9 798.7 L584.5 798.7 L576.7 783.5Z" fill="#FF0000"/>
<path d="M624.7 836.9 L640.3 836.9 L632.5 821.7Z" fill="#FF0000"/>
<path d="M688.2 849.0 V868.2 M680.2 849.0 H696.2 M680.2 868.2 H696.2" stroke="#FF0000" stroke-width="2.3" fill="none"/>
<path d="M680.4 865.6 L696.0 865.6 L688.2 850.4Z" fill="#FF0000"/>
<path d="M736.1 999.5 L751.7 999.5 L743.9 984.3Z" fill="#FF0000"/>
<path d="M791.8 1072.8 L807.4 1072.8 L799.6 1057.6Z" fill="#FF0000"/>
<path d="M847.5 1076.0 L863.1 1076.0 L855.3 1060.8Z" fill="#FF0000"/>
<path d="M903.3 1076.0 L918.9 1076.0 L911.1 1060.8Z" fill="#FF0000"/>
<path d="M456.3 791.7 H474.3 M465.3 782.7 V800.6" stroke="#FF0000" stroke-width="3.0"/>
<path d="M512.0 778.9 H530.0 M521.0 769.9 V787.9" stroke="#FF0000" stroke-width="3.0"/>
<path d="M567.8 788.5 H585.7 M576.7 779.5 V797.4" stroke="#FF0000" stroke-width="3.0"/>
<path d="M623.5 829.9 H641.4 M632.5 820.9 V838.9" stroke="#FF0000" stroke-width="3.0"/>
<path d="M688.2 855.4 V880.9 M680.2 855.4 H696.2 M680.2 880.9 H696.2" stroke="#FF0000" stroke-width="2.3" fill="none"/>
<path d="M679.2 868.2 H697.2 M688.2 859.2 V877.1" stroke="#FF0000" stroke-width="3.0"/>
<path d="M734.9 978.5 H752.9 M743.9 969.5 V987.4" stroke="#FF0000" stroke-width="3.0"/>
<path d="M790.6 1033.9 H808.6 M799.6 1025.0 V1042.9" stroke="#FF0000" stroke-width="3.0"/>
<path d="M846.4 1059.4 H864.3 M855.3 1050.5 V1068.4" stroke="#FF0000" stroke-width="3.0"/>
<path d="M902.1 1062.6 H920.0 M911.1 1053.7 V1071.6" stroke="#FF0000" stroke-width="3.0"/>
<path d="M457.5 748.8 L473.1 764.4 M473.1 748.8 L457.5 764.4" stroke="#FF0000" stroke-width="3.4"/>
<path d="M513.2 748.8 L528.8 764.4 M528.8 748.8 L513.2 764.4" stroke="#FF0000" stroke-width="3.4"/>
<path d="M568.9 764.7 L584.5 780.3 M584.5 764.7 L568.9 780.3" stroke="#FF0000" stroke-width="3.4"/>
<path d="M624.7 815.7 L640.3 831.3 M640.3 815.7 L624.7 831.3" stroke="#FF0000" stroke-width="3.4"/>
<path d="M680.4 857.2 L696.0 872.8 M696.0 857.2 L680.4 872.8" stroke="#FF0000" stroke-width="3.4"/>
<path d="M736.1 978.3 L751.7 993.9 M751.7 978.3 L736.1 993.9" stroke="#FF0000" stroke-width="3.4"/>
<path d="M791.8 1035.7 L807.4 1051.3 M807.4 1035.7 L791.8 1051.3" stroke="#FF0000" stroke-width="3.4"/>
<path d="M847.5 1038.9 L863.1 1054.5 M863.1 1038.9 L847.5 1054.5" stroke="#FF0000" stroke-width="3.4"/>
<path d="M903.3 1048.5 L918.9 1064.1 M918.9 1048.5 L903.3 1064.1" stroke="#FF0000" stroke-width="3.4"/>
<path d="M465.3 777.9 L465.3 792.7 M458.9 781.6 L471.7 789.0 M458.9 789.0 L471.7 781.6 " stroke="#FF0000" stroke-width="3.2"/>
<path d="M521.0 758.7 L521.0 773.6 M514.6 762.4 L527.4 769.9 M514.6 769.9 L527.4 762.4 " stroke="#FF0000" stroke-width="3.2"/>
<path d="M576.7 777.9 L576.7 792.7 M570.3 781.6 L583.2 789.0 M570.3 789.0 L583.2 781.6 " stroke="#FF0000" stroke-width="3.2"/>
<path d="M632.5 812.9 L632.5 827.8 M626.0 816.6 L638.9 824.1 M626.0 824.1 L638.9 816.6 " stroke="#FF0000" stroke-width="3.2"/>
<path d="M688.2 906.7 V938.6 M680.2 906.7 H696.2 M680.2 938.6 H696.2" stroke="#FF0000" stroke-width="2.3" fill="none"/>
<path d="M688.2 915.3 L688.2 930.1 M681.8 919.0 L694.6 926.4 M681.8 926.4 L694.6 919.0 " stroke="#FF0000" stroke-width="3.2"/>
<path d="M743.9 996.9 L743.9 1011.7 M737.5 1000.6 L750.3 1008.0 M737.5 1008.0 L750.3 1000.6 " stroke="#FF0000" stroke-width="3.2"/>
<path d="M799.6 1058.4 L799.6 1073.2 M793.2 1062.1 L806.0 1069.5 M793.2 1069.5 L806.0 1062.1 " stroke="#FF0000" stroke-width="3.2"/>
<path d="M855.3 1061.6 L855.3 1076.4 M848.9 1065.3 L861.8 1072.7 M848.9 1072.7 L861.8 1065.3 " stroke="#FF0000" stroke-width="3.2"/>
<path d="M911.1 1058.4 L911.1 1073.2 M904.6 1062.1 L917.5 1069.5 M904.6 1069.5 L917.5 1062.1 " stroke="#FF0000" stroke-width="3.2"/>
<rect x="458.3" y="749.6" width="14.0" height="14.0" fill="none" stroke="#FF0000" stroke-width="3.0"/>
<rect x="514.0" y="749.6" width="14.0" height="14.0" fill="none" stroke="#FF0000" stroke-width="3.0"/>
<rect x="569.7" y="755.9" width="14.0" height="14.0" fill="none" stroke="#FF0000" stroke-width="3.0"/>
<rect x="625.4" y="762.3" width="14.0" height="14.0" fill="none" stroke="#FF0000" stroke-width="3.0"/>
<rect x="681.2" y="768.7" width="14.0" height="14.0" fill="none" stroke="#FF0000" stroke-width="3.0"/>
<rect x="736.9" y="768.7" width="14.0" height="14.0" fill="none" stroke="#FF0000" stroke-width="3.0"/>
<rect x="792.6" y="768.7" width="14.0" height="14.0" fill="none" stroke="#FF0000" stroke-width="3.0"/>
<rect x="848.3" y="770.3" width="14.0" height="14.0" fill="none" stroke="#FF0000" stroke-width="3.0"/>
<rect x="904.0" y="771.2" width="14.0" height="14.0" fill="none" stroke="#FF0000" stroke-width="3.0"/>
<circle cx="465.3" cy="775.7" r="7.0" fill="none" stroke="#FF0000" stroke-width="3.0"/>
<circle cx="521.0" cy="769.3" r="7.0" fill="none" stroke="#FF0000" stroke-width="3.0"/>
<circle cx="576.7" cy="775.7" r="7.0" fill="none" stroke="#FF0000" stroke-width="3.0"/>
<circle cx="632.5" cy="778.9" r="7.0" fill="none" stroke="#FF0000" stroke-width="3.0"/>
<circle cx="688.2" cy="775.7" r="7.0" fill="none" stroke="#FF0000" stroke-width="3.0"/>
<circle cx="743.9" cy="778.9" r="7.0" fill="none" stroke="#FF0000" stroke-width="3.0"/>
<circle cx="799.6" cy="785.3" r="7.0" fill="none" stroke="#FF0000" stroke-width="3.0"/>
<circle cx="855.3" cy="794.8" r="7.0" fill="none" stroke="#FF0000" stroke-width="3.0"/>
<circle cx="911.1" cy="818.4" r="7.0" fill="none" stroke="#FF0000" stroke-width="3.0"/>
<circle cx="465.3" cy="778.9" r="7.8" fill="#3F4FA9"/>
<circle cx="521.0" cy="772.5" r="7.8" fill="#3F4FA9"/>
<circle cx="576.7" cy="778.9" r="7.8" fill="#3F4FA9"/>
<circle cx="632.5" cy="785.3" r="7.8" fill="#3F4FA9"/>
<circle cx="688.2" cy="778.9" r="7.8" fill="#3F4FA9"/>
<circle cx="743.9" cy="778.9" r="7.8" fill="#3F4FA9"/>
<circle cx="799.6" cy="778.9" r="7.8" fill="#3F4FA9"/>
<circle cx="855.3" cy="782.1" r="7.8" fill="#3F4FA9"/>
<circle cx="911.1" cy="782.1" r="7.8" fill="#3F4FA9"/>
<rect x="457.5" y="790.2" width="15.6" height="15.6" fill="#3F4FA9"/>
<rect x="513.2" y="796.6" width="15.6" height="15.6" fill="#3F4FA9"/>
<rect x="568.9" y="796.6" width="15.6" height="15.6" fill="#3F4FA9"/>
<rect x="624.7" y="790.2" width="15.6" height="15.6" fill="#3F4FA9"/>
<rect x="680.4" y="783.9" width="15.6" height="15.6" fill="#3F4FA9"/>
<rect x="736.1" y="780.7" width="15.6" height="15.6" fill="#3F4FA9"/>
<rect x="791.8" y="787.0" width="15.6" height="15.6" fill="#3F4FA9"/>
<rect x="847.5" y="803.0" width="15.6" height="15.6" fill="#3F4FA9"/>
<path d="M911.1 833.1 V871.4 M903.1 833.1 H919.1 M903.1 871.4 H919.1" stroke="#3F4FA9" stroke-width="2.3" fill="none"/>
<rect x="903.3" y="844.4" width="15.6" height="15.6" fill="#3F4FA9"/>
<path d="M465.3 776.3 L474.3 785.3 L465.3 794.2 L456.3 785.3Z" fill="#3F4FA9"/>
<path d="M521.0 769.9 L530.0 778.9 L521.0 787.9 L512.0 778.9Z" fill="#3F4FA9"/>
<path d="M576.7 776.3 L585.7 785.3 L576.7 794.2 L567.8 785.3Z" fill="#3F4FA9"/>
<path d="M632.5 773.1 L641.4 782.1 L632.5 791.1 L623.5 782.1Z" fill="#3F4FA9"/>
<path d="M688.2 766.7 L697.2 775.7 L688.2 784.7 L679.2 775.7Z" fill="#3F4FA9"/>
<path d="M743.9 769.9 L752.9 778.9 L743.9 787.9 L734.9 778.9Z" fill="#3F4FA9"/>
<path d="M799.6 769.9 L808.6 778.9 L799.6 787.9 L790.6 778.9Z" fill="#3F4FA9"/>
<path d="M855.3 779.5 L864.3 788.5 L855.3 797.4 L846.4 788.5Z" fill="#3F4FA9"/>
<path d="M911.1 741.2 L920.0 750.2 L911.1 759.2 L902.1 750.2Z" fill="#3F4FA9"/>
<path d="M457.5 784.6 L473.1 784.6 L465.3 799.8Z" fill="#3F4FA9"/>
<path d="M513.2 775.1 L528.8 775.1 L521.0 790.3Z" fill="#3F4FA9"/>
<path d="M568.9 784.6 L584.5 784.6 L576.7 799.8Z" fill="#3F4FA9"/>
<path d="M624.7 781.4 L640.3 781.4 L632.5 796.7Z" fill="#3F4FA9"/>
<path d="M680.4 755.9 L696.0 755.9 L688.2 771.2Z" fill="#3F4FA9"/>
<path d="M736.1 771.9 L751.7 771.9 L743.9 787.1Z" fill="#3F4FA9"/>
<path d="M791.8 778.3 L807.4 778.3 L799.6 793.5Z" fill="#3F4FA9"/>
<path d="M855.3 804.4 V829.9 M847.3 804.4 H863.3 M847.3 829.9 H863.3" stroke="#3F4FA9" stroke-width="2.3" fill="none"/>
<path d="M847.5 810.1 L863.1 810.1 L855.3 825.4Z" fill="#3F4FA9"/>
<path d="M903.3 746.4 L918.9 746.4 L911.1 761.6Z" fill="#3F4FA9"/>
<circle cx="465.3" cy="782.1" r="7.8" fill="#3F4FA9"/>
<circle cx="521.0" cy="741.9" r="7.8" fill="#3F4FA9"/>
<circle cx="576.7" cy="775.7" r="7.8" fill="#3F4FA9"/>
<circle cx="632.5" cy="775.7" r="7.8" fill="#3F4FA9"/>
<circle cx="688.2" cy="750.2" r="7.8" fill="#3F4FA9"/>
<circle cx="743.9" cy="775.7" r="7.8" fill="#3F4FA9"/>
<circle cx="799.6" cy="778.9" r="7.8" fill="#3F4FA9"/>
<circle cx="855.3" cy="785.3" r="7.8" fill="#3F4FA9"/>
<circle cx="911.1" cy="890.5" r="7.8" fill="#3F4FA9"/>
<path d="M457.5 801.9 L473.1 801.9 L465.3 786.7Z" fill="#3F4FA9"/>
<path d="M513.2 798.7 L528.8 798.7 L521.0 783.5Z" fill="#3F4FA9"/>
<path d="M568.9 801.9 L584.5 801.9 L576.7 786.7Z" fill="#3F4FA9"/>
<path d="M624.7 805.1 L640.3 805.1 L632.5 789.8Z" fill="#3F4FA9"/>
<path d="M680.4 795.5 L696.0 795.5 L688.2 780.3Z" fill="#3F4FA9"/>
<path d="M736.1 792.3 L751.7 792.3 L743.9 777.1Z" fill="#3F4FA9"/>
<path d="M791.8 798.7 L807.4 798.7 L799.6 783.5Z" fill="#3F4FA9"/>
<path d="M847.5 811.4 L863.1 811.4 L855.3 796.2Z" fill="#3F4FA9"/>
<path d="M911.1 826.7 V845.9 M903.1 826.7 H919.1 M903.1 845.9 H919.1" stroke="#3F4FA9" stroke-width="2.3" fill="none"/>
<path d="M903.3 843.3 L918.9 843.3 L911.1 828.1Z" fill="#3F4FA9"/>
<path d="M456.3 763.0 H474.3 M465.3 754.0 V771.9" stroke="#3F4FA9" stroke-width="3.0"/>
<path d="M512.0 772.5 H530.0 M521.0 763.6 V781.5" stroke="#3F4FA9" stroke-width="3.0"/>
<path d="M576.7 726.9 V752.4 M568.7 726.9 H584.7 M568.7 752.4 H584.7" stroke="#3F4FA9" stroke-width="2.3" fill="none"/>
<path d="M567.8 739.7 H585.7 M576.7 730.7 V748.7" stroke="#3F4FA9" stroke-width="3.0"/>
<path d="M632.5 747.0 V763.0 M624.5 747.0 H640.5 M624.5 763.0 H640.5" stroke="#3F4FA9" stroke-width="2.3" fill="none"/>
<path d="M623.5 755.0 H641.4 M632.5 746.0 V764.0" stroke="#3F4FA9" stroke-width="3.0"/>
<path d="M688.2 727.9 V750.2 M680.2 727.9 H696.2 M680.2 750.2 H696.2" stroke="#3F4FA9" stroke-width="2.3" fill="none"/>
<path d="M679.2 739.1 H697.2 M688.2 730.1 V748.0" stroke="#3F4FA9" stroke-width="3.0"/>
<path d="M743.9 728.5 V760.4 M735.9 728.5 H751.9 M735.9 760.4 H751.9" stroke="#3F4FA9" stroke-width="2.3" fill="none"/>
<path d="M734.9 744.5 H752.9 M743.9 735.5 V753.4" stroke="#3F4FA9" stroke-width="3.0"/>
<path d="M799.6 747.0 V766.2 M791.6 747.0 H807.6 M791.6 766.2 H807.6" stroke="#3F4FA9" stroke-width="2.3" fill="none"/>
<path d="M790.6 756.6 H808.6 M799.6 747.6 V765.6" stroke="#3F4FA9" stroke-width="3.0"/>
<path d="M846.4 766.2 H864.3 M855.3 757.2 V775.1" stroke="#3F4FA9" stroke-width="3.0"/>
<path d="M902.1 763.0 H920.0 M911.1 754.0 V771.9" stroke="#3F4FA9" stroke-width="3.0"/>
<path d="M457.5 748.8 L473.1 764.4 M473.1 748.8 L457.5 764.4" stroke="#3F4FA9" stroke-width="3.4"/>
<path d="M513.2 721.1 L528.8 736.7 M528.8 721.1 L513.2 736.7" stroke="#3F4FA9" stroke-width="3.4"/>
<path d="M568.9 755.2 L584.5 770.8 M584.5 755.2 L568.9 770.8" stroke="#3F4FA9" stroke-width="3.4"/>
<path d="M624.7 761.5 L640.3 777.1 M640.3 761.5 L624.7 777.1" stroke="#3F4FA9" stroke-width="3.4"/>
<path d="M680.4 745.6 L696.0 761.2 M696.0 745.6 L680.4 761.2" stroke="#3F4FA9" stroke-width="3.4"/>
<path d="M736.1 767.9 L751.7 783.5 M751.7 767.9 L736.1 783.5" stroke="#3F4FA9" stroke-width="3.4"/>
<path d="M791.8 767.9 L807.4 783.5 M807.4 767.9 L791.8 783.5" stroke="#3F4FA9" stroke-width="3.4"/>
<path d="M847.5 758.4 L863.1 774.0 M863.1 758.4 L847.5 774.0" stroke="#3F4FA9" stroke-width="3.4"/>
<path d="M903.3 732.8 L918.9 748.4 M918.9 732.8 L903.3 748.4" stroke="#3F4FA9" stroke-width="3.4"/>
<path d="M465.3 746.0 L465.3 760.8 M458.9 749.7 L471.7 757.1 M458.9 757.1 L471.7 749.7 " stroke="#3F4FA9" stroke-width="3.2"/>
<path d="M521.0 736.4 L521.0 751.2 M514.6 740.1 L527.4 747.5 M514.6 747.5 L527.4 740.1 " stroke="#3F4FA9" stroke-width="3.2"/>
<path d="M576.7 761.9 L576.7 776.8 M570.3 765.6 L583.2 773.0 M570.3 773.0 L583.2 765.6 " stroke="#3F4FA9" stroke-width="3.2"/>
<path d="M632.5 765.1 L632.5 779.9 M626.0 768.8 L638.9 776.2 M626.0 776.2 L638.9 768.8 " stroke="#3F4FA9" stroke-width="3.2"/>
<path d="M688.2 736.4 L688.2 751.2 M681.8 740.1 L694.6 747.5 M681.8 747.5 L694.6 740.1 " stroke="#3F4FA9" stroke-width="3.2"/>
<path d="M743.9 765.1 L743.9 779.9 M737.5 768.8 L750.3 776.2 M737.5 776.2 L750.3 768.8 " stroke="#3F4FA9" stroke-width="3.2"/>
<path d="M799.6 768.3 L799.6 783.1 M793.2 772.0 L806.0 779.4 M793.2 779.4 L806.0 772.0 " stroke="#3F4FA9" stroke-width="3.2"/>
<path d="M855.3 784.2 L855.3 799.1 M848.9 788.0 L861.8 795.4 M848.9 795.4 L861.8 788.0 " stroke="#3F4FA9" stroke-width="3.2"/>
<path d="M911.1 886.3 L911.1 901.1 M904.6 890.0 L917.5 897.4 M904.6 897.4 L917.5 890.0 " stroke="#3F4FA9" stroke-width="3.2"/>
<rect x="458.3" y="778.3" width="14.0" height="14.0" fill="none" stroke="#3F4FA9" stroke-width="3.0"/>
<rect x="514.0" y="771.9" width="14.0" height="14.0" fill="none" stroke="#3F4FA9" stroke-width="3.0"/>
<rect x="569.7" y="775.1" width="14.0" height="14.0" fill="none" stroke="#3F4FA9" stroke-width="3.0"/>
<rect x="625.4" y="778.3" width="14.0" height="14.0" fill="none" stroke="#3F4FA9" stroke-width="3.0"/>
<rect x="681.2" y="771.9" width="14.0" height="14.0" fill="none" stroke="#3F4FA9" stroke-width="3.0"/>
<rect x="736.9" y="775.1" width="14.0" height="14.0" fill="none" stroke="#3F4FA9" stroke-width="3.0"/>
<rect x="792.6" y="778.3" width="14.0" height="14.0" fill="none" stroke="#3F4FA9" stroke-width="3.0"/>
<rect x="848.3" y="794.2" width="14.0" height="14.0" fill="none" stroke="#3F4FA9" stroke-width="3.0"/>
<rect x="904.0" y="816.5" width="14.0" height="14.0" fill="none" stroke="#3F4FA9" stroke-width="3.0"/>
<circle cx="465.3" cy="788.5" r="7.0" fill="none" stroke="#3F4FA9" stroke-width="3.0"/>
<circle cx="521.0" cy="785.3" r="7.0" fill="none" stroke="#3F4FA9" stroke-width="3.0"/>
<circle cx="576.7" cy="788.5" r="7.0" fill="none" stroke="#3F4FA9" stroke-width="3.0"/>
<circle cx="632.5" cy="791.7" r="7.0" fill="none" stroke="#3F4FA9" stroke-width="3.0"/>
<circle cx="688.2" cy="785.3" r="7.0" fill="none" stroke="#3F4FA9" stroke-width="3.0"/>
<circle cx="743.9" cy="785.3" r="7.0" fill="none" stroke="#3F4FA9" stroke-width="3.0"/>
<circle cx="799.6" cy="791.7" r="7.0" fill="none" stroke="#3F4FA9" stroke-width="3.0"/>
<circle cx="855.3" cy="804.4" r="7.0" fill="none" stroke="#3F4FA9" stroke-width="3.0"/>
<circle cx="911.1" cy="817.2" r="7.0" fill="none" stroke="#3F4FA9" stroke-width="3.0"/>
<rect x="466.5" y="1010.2" width="24.5" height="5.0" fill="#3F4FA9" />
<text x="499.0" y="1020.0" font-size="24.3" fill="#231F20" textLength="129.5" lengthAdjust="spacingAndGlyphs" >B12-SG3249</text>
<rect x="466.5" y="1039.0" width="24.5" height="5.0" fill="#FF0000" />
<text x="499.0" y="1048.8" font-size="24.3" fill="#231F20" textLength="102.5" lengthAdjust="spacingAndGlyphs" >ADCT-301</text>
<rect x="1146.9" y="657.8" width="108.0" height="46.8" fill="none" stroke="#231F20" stroke-width="2.7"/>
<rect x="1040.0" y="704.6" width="214.9" height="407.4" fill="none" stroke="#231F20" stroke-width="2.7"/>
<line x1="1146.9" y1="704.6" x2="1146.9" y2="1112.0" stroke="#231F20" stroke-width="2.7" />
<line x1="1040.0" y1="741.3" x2="1254.9" y2="741.3" stroke="#231F20" stroke-width="2.7" />
<line x1="1040.0" y1="778.0" x2="1254.9" y2="778.0" stroke="#231F20" stroke-width="2.7" />
<line x1="1040.0" y1="815.2" x2="1254.9" y2="815.2" stroke="#231F20" stroke-width="2.7" />
<line x1="1040.0" y1="852.2" x2="1254.9" y2="852.2" stroke="#231F20" stroke-width="2.7" />
<line x1="1040.0" y1="888.9" x2="1254.9" y2="888.9" stroke="#231F20" stroke-width="2.7" />
<line x1="1040.0" y1="926.1" x2="1254.9" y2="926.1" stroke="#231F20" stroke-width="2.7" />
<line x1="1040.0" y1="962.8" x2="1254.9" y2="962.8" stroke="#231F20" stroke-width="2.7" />
<line x1="1040.0" y1="1000.0" x2="1254.9" y2="1000.0" stroke="#231F20" stroke-width="2.7" />
<line x1="1040.0" y1="1037.4" x2="1254.9" y2="1037.4" stroke="#231F20" stroke-width="2.7" />
<line x1="1040.0" y1="1074.1" x2="1254.9" y2="1074.1" stroke="#231F20" stroke-width="2.7" />
<text x="1151.3" y="694.0" font-size="23" fill="#231F20" textLength="98.0" lengthAdjust="spacingAndGlyphs" >LD<tspan font-size="14" dy="5">50</tspan><tspan dy="-5">ng/ml</tspan></text>
<text x="1051.2" y="732.8" font-size="24.3" fill="#231F20" textLength="85.7" lengthAdjust="spacingAndGlyphs" >SUP-M2</text>
<text x="1164.7" y="732.8" font-size="24.3" fill="#231F20" textLength="71.3" lengthAdjust="spacingAndGlyphs" >0.9645</text>
<text x="1051.2" y="769.5" font-size="24.3" fill="#231F20" textLength="37.0" lengthAdjust="spacingAndGlyphs" >JB6</text>
<text x="1164.7" y="769.5" font-size="24.3" fill="#231F20" textLength="57.0" lengthAdjust="spacingAndGlyphs" >1.551</text>
<text x="1051.2" y="806.2" font-size="24.3" fill="#231F20" textLength="74.5" lengthAdjust="spacingAndGlyphs" >SR-786</text>
<text x="1164.7" y="806.2" font-size="24.3" fill="#231F20" textLength="57.0" lengthAdjust="spacingAndGlyphs" >2.336</text>
<text x="1051.2" y="843.4" font-size="24.3" fill="#231F20" textLength="41.0" lengthAdjust="spacingAndGlyphs" >DEL</text>
<text x="1164.7" y="843.4" font-size="24.3" fill="#231F20" textLength="71.3" lengthAdjust="spacingAndGlyphs" >0.6593</text>
<text x="1051.2" y="880.4" font-size="24.3" fill="#231F20" textLength="82.0" lengthAdjust="spacingAndGlyphs" >Mac-2A</text>
<text x="1164.7" y="880.4" font-size="24.3" fill="#231F20" textLength="71.3" lengthAdjust="spacingAndGlyphs" >0.8372</text>
<text x="1051.2" y="917.1" font-size="24.3" fill="#231F20" textLength="64.0" lengthAdjust="spacingAndGlyphs" >FE-PD</text>
<text x="1164.7" y="917.1" font-size="24.3" fill="#231F20" textLength="57.0" lengthAdjust="spacingAndGlyphs" >1.547</text>
<text x="1051.2" y="954.3" font-size="24.3" fill="#231F20" textLength="72.0" lengthAdjust="spacingAndGlyphs" >TLBR-1</text>
<text x="1164.7" y="954.3" font-size="24.3" fill="#231F20" textLength="57.0" lengthAdjust="spacingAndGlyphs" >1.081</text>
<text x="1051.2" y="991.0" font-size="24.3" fill="#231F20" textLength="74.5" lengthAdjust="spacingAndGlyphs" >TLBR-2</text>
<text x="1164.7" y="991.0" font-size="24.3" fill="#231F20" textLength="57.0" lengthAdjust="spacingAndGlyphs" >1.446</text>
<text x="1051.2" y="1028.2" font-size="24.3" fill="#231F20" textLength="74.5" lengthAdjust="spacingAndGlyphs" >TLBR-3</text>
<text x="1164.7" y="1028.2" font-size="24.3" fill="#231F20" textLength="71.3" lengthAdjust="spacingAndGlyphs" >0.9518</text>
<text x="1051.2" y="1065.6" font-size="24.3" fill="#231F20" textLength="66.0" lengthAdjust="spacingAndGlyphs" >Jurkat</text>
<text x="1164.7" y="1065.6" font-size="24.3" fill="#231F20" textLength="37.0" lengthAdjust="spacingAndGlyphs" >n.a.</text>
<text x="1051.2" y="1102.3" font-size="24.3" fill="#231F20" textLength="60.0" lengthAdjust="spacingAndGlyphs" >KE-37</text>
<text x="1164.7" y="1102.3" font-size="24.3" fill="#231F20" textLength="37.0" lengthAdjust="spacingAndGlyphs" >n.a.</text>
<text x="1.0" y="1241.5" font-size="38" fill="#000" font-weight="bold" >d</text>
<text x="344.0" y="1283.0" font-size="30" fill="#000" font-weight="bold" textLength="114.0" lengthAdjust="spacingAndGlyphs" >Mac-2A</text>
<rect x="153.2" y="1321.5" width="5.8" height="323.0" fill="#000" />
<rect x="143.9" y="1321.5" width="12.0" height="5.6" fill="#000" />
<text x="139.3" y="1332.5" font-size="21.5" fill="#000" text-anchor="end" textLength="50.0" lengthAdjust="spacingAndGlyphs" >2000</text>
<rect x="143.9" y="1400.8" width="12.0" height="5.6" fill="#000" />
<text x="139.3" y="1411.8" font-size="21.5" fill="#000" text-anchor="end" textLength="50.0" lengthAdjust="spacingAndGlyphs" >1500</text>
<rect x="143.9" y="1480.2" width="12.0" height="5.6" fill="#000" />
<text x="139.3" y="1491.2" font-size="21.5" fill="#000" text-anchor="end" textLength="50.0" lengthAdjust="spacingAndGlyphs" >1000</text>
<rect x="143.9" y="1559.5" width="12.0" height="5.6" fill="#000" />
<text x="139.3" y="1570.5" font-size="21.5" fill="#000" text-anchor="end" textLength="37.5" lengthAdjust="spacingAndGlyphs" >500</text>
<rect x="143.9" y="1638.8" width="12.0" height="5.6" fill="#000" />
<text x="139.3" y="1649.8" font-size="21.5" fill="#000" text-anchor="end" textLength="12.5" lengthAdjust="spacingAndGlyphs" >0</text>
<rect x="184.8" y="1638.8" width="466.6" height="5.8" fill="#000" />
<rect x="184.1" y="1641.0" width="5.0" height="12.0" fill="#000" />
<text x="186.6" y="1676.2" font-size="21.5" fill="#000" text-anchor="middle" >1</text>
<rect x="238.6" y="1641.0" width="5.0" height="12.0" fill="#000" />
<text x="241.1" y="1676.2" font-size="21.5" fill="#000" text-anchor="middle" >5</text>
<rect x="306.7" y="1641.0" width="5.0" height="12.0" fill="#000" />
<text x="309.2" y="1676.2" font-size="21.5" fill="#000" text-anchor="middle" >10</text>
<rect x="374.8" y="1641.0" width="5.0" height="12.0" fill="#000" />
<text x="377.3" y="1676.2" font-size="21.5" fill="#000" text-anchor="middle" >15</text>
<rect x="442.9" y="1641.0" width="5.0" height="12.0" fill="#000" />
<text x="445.4" y="1676.2" font-size="21.5" fill="#000" text-anchor="middle" >20</text>
<rect x="511.0" y="1641.0" width="5.0" height="12.0" fill="#000" />
<text x="513.5" y="1676.2" font-size="21.5" fill="#000" text-anchor="middle" >25</text>
<rect x="579.1" y="1641.0" width="5.0" height="12.0" fill="#000" />
<text x="581.6" y="1676.2" font-size="21.5" fill="#000" text-anchor="middle" >30</text>
<rect x="647.2" y="1641.0" width="5.0" height="12.0" fill="#000" />
<text x="649.7" y="1676.2" font-size="21.5" fill="#000" text-anchor="middle" >35</text>
<text x="679.4" y="1676.2" font-size="21.5" fill="#000" textLength="47.3" lengthAdjust="spacingAndGlyphs" >days</text>
<text transform="translate(77.1,1480.5) rotate(-90)" font-size="29.5" text-anchor="middle" textLength="352" lengthAdjust="spacingAndGlyphs">Mean Tumor Volume (mm<tspan font-size="18" dy="-11">3</tspan><tspan dy="11">)</tspan></text>
<rect x="185.4" y="1509.9" width="4.0" height="54.0" fill="#6B6B6B" />
<path d="M176.7 1563.0 H198.1 L187.4 1596.3Z" fill="#6B6B6B"/>
<path d="M402.1 1364.5 H410.1 V1609.4 H402.1" stroke="#000" stroke-width="1.3" fill="none"/>
<text x="419.2" y="1491.7" font-size="12.5" fill="#000" textLength="60.0" lengthAdjust="spacingAndGlyphs" ><tspan font-style="italic">P</tspan> &lt; 0.0001</text>
<polyline points="186.6,1619.2 227.5,1608.0 268.3,1606.1 309.2,1609.4 350.0,1611.3 390.9,1615.7 431.8,1609.9 472.6,1609.1 513.5,1604.8 554.3,1605.9 595.2,1605.1 636.1,1602.3" fill="none" stroke="#FF0000" stroke-width="6.2" stroke-linejoin="round"/>
<circle cx="186.6" cy="1619.2" r="9.2" fill="#FF0000"/>
<circle cx="227.5" cy="1608.0" r="9.2" fill="#FF0000"/>
<circle cx="268.3" cy="1606.1" r="9.2" fill="#FF0000"/>
<circle cx="309.2" cy="1609.4" r="9.2" fill="#FF0000"/>
<circle cx="350.0" cy="1611.3" r="9.2" fill="#FF0000"/>
<circle cx="390.9" cy="1615.7" r="9.2" fill="#FF0000"/>
<circle cx="431.8" cy="1609.9" r="9.2" fill="#FF0000"/>
<circle cx="472.6" cy="1609.1" r="9.2" fill="#FF0000"/>
<circle cx="513.5" cy="1604.8" r="9.2" fill="#FF0000"/>
<circle cx="554.3" cy="1605.9" r="9.2" fill="#FF0000"/>
<circle cx="595.2" cy="1605.1" r="9.2" fill="#FF0000"/>
<circle cx="636.1" cy="1602.3" r="9.2" fill="#FF0000"/>
<polyline points="186.6,1619.2 227.5,1544.0 268.3,1511.5 309.2,1497.2 350.0,1430.9 390.9,1374.0" fill="none" stroke="#0000C0" stroke-width="6.2" stroke-linejoin="round"/>
<path d="M227.5 1531.0 V1555.9 M220.8 1531.0 H234.2 M220.8 1555.9 H234.2" stroke="#0000C0" stroke-width="5.6" stroke-linecap="round" fill="none"/>
<path d="M268.3 1506.8 V1520.4 M261.6 1506.8 H275.0 M261.6 1520.4 H275.0" stroke="#0000C0" stroke-width="5.6" stroke-linecap="round" fill="none"/>
<path d="M309.2 1487.4 V1505.6 M302.5 1487.4 H315.9 M302.5 1505.6 H315.9" stroke="#0000C0" stroke-width="5.6" stroke-linecap="round" fill="none"/>
<path d="M350.0 1413.2 V1456.0 M343.3 1413.2 H356.7 M343.3 1456.0 H356.7" stroke="#0000C0" stroke-width="5.6" stroke-linecap="round" fill="none"/>
<path d="M390.9 1341.8 V1406.2 M384.2 1341.8 H397.6 M384.2 1406.2 H397.6" stroke="#0000C0" stroke-width="5.6" stroke-linecap="round" fill="none"/>
<circle cx="186.6" cy="1619.2" r="9.2" fill="#0000C0"/>
<circle cx="227.5" cy="1544.0" r="9.2" fill="#0000C0"/>
<circle cx="268.3" cy="1511.5" r="9.2" fill="#0000C0"/>
<circle cx="309.2" cy="1497.2" r="9.2" fill="#0000C0"/>
<circle cx="350.0" cy="1430.9" r="9.2" fill="#0000C0"/>
<circle cx="390.9" cy="1374.0" r="9.2" fill="#0000C0"/>
<polyline points="186.6,1619.2 227.5,1560.9 268.3,1503.1 309.2,1473.4 350.0,1402.1 390.9,1354.1" fill="none" stroke="#000" stroke-width="6.2" stroke-linejoin="round"/>
<path d="M227.5 1554.5 V1568.5 M220.8 1554.5 H234.2 M220.8 1568.5 H234.2" stroke="#000" stroke-width="5.6" stroke-linecap="round" fill="none"/>
<path d="M268.3 1490.9 V1516.1 M261.6 1490.9 H275.0 M261.6 1516.1 H275.0" stroke="#000" stroke-width="5.6" stroke-linecap="round" fill="none"/>
<path d="M309.2 1461.2 V1484.7 M302.5 1461.2 H315.9 M302.5 1484.7 H315.9" stroke="#000" stroke-width="5.6" stroke-linecap="round" fill="none"/>
<path d="M350.0 1381.9 V1421.9 M343.3 1381.9 H356.7 M343.3 1421.9 H356.7" stroke="#000" stroke-width="5.6" stroke-linecap="round" fill="none"/>
<path d="M390.9 1324.3 V1384.6 M384.2 1324.3 H397.6 M384.2 1384.6 H397.6" stroke="#000" stroke-width="5.6" stroke-linecap="round" fill="none"/>
<circle cx="186.6" cy="1619.2" r="9.2" fill="#000"/>
<circle cx="227.5" cy="1560.9" r="9.2" fill="#000"/>
<circle cx="268.3" cy="1503.1" r="9.2" fill="#000"/>
<circle cx="309.2" cy="1473.4" r="9.2" fill="#000"/>
<circle cx="350.0" cy="1402.1" r="9.2" fill="#000"/>
<circle cx="390.9" cy="1354.1" r="9.2" fill="#000"/>
<text x="354.7" y="1778.5" font-size="30" fill="#000" font-weight="bold" textLength="103.3" lengthAdjust="spacingAndGlyphs" >TLBR-1</text>
<rect x="153.2" y="1815.6" width="5.8" height="323.0" fill="#000" />
<rect x="143.9" y="1815.6" width="12.0" height="5.6" fill="#000" />
<text x="139.3" y="1826.6" font-size="21.5" fill="#000" text-anchor="end" textLength="50.0" lengthAdjust="spacingAndGlyphs" >2000</text>
<rect x="143.9" y="1894.9" width="12.0" height="5.6" fill="#000" />
<text x="139.3" y="1905.9" font-size="21.5" fill="#000" text-anchor="end" textLength="50.0" lengthAdjust="spacingAndGlyphs" >1500</text>
<rect x="143.9" y="1974.3" width="12.0" height="5.6" fill="#000" />
<text x="139.3" y="1985.3" font-size="21.5" fill="#000" text-anchor="end" textLength="50.0" lengthAdjust="spacingAndGlyphs" >1000</text>
<rect x="143.9" y="2053.6" width="12.0" height="5.6" fill="#000" />
<text x="139.3" y="2064.6" font-size="21.5" fill="#000" text-anchor="end" textLength="37.5" lengthAdjust="spacingAndGlyphs" >500</text>
<rect x="143.9" y="2132.9" width="12.0" height="5.6" fill="#000" />
<text x="139.3" y="2143.9" font-size="21.5" fill="#000" text-anchor="end" textLength="12.5" lengthAdjust="spacingAndGlyphs" >0</text>
<rect x="185.8" y="2132.9" width="466.6" height="5.8" fill="#000" />
<rect x="185.1" y="2135.1" width="5.0" height="12.0" fill="#000" />
<text x="187.6" y="2170.3" font-size="21.5" fill="#000" text-anchor="middle" >1</text>
<rect x="239.6" y="2135.1" width="5.0" height="12.0" fill="#000" />
<text x="242.1" y="2170.3" font-size="21.5" fill="#000" text-anchor="middle" >5</text>
<rect x="307.7" y="2135.1" width="5.0" height="12.0" fill="#000" />
<text x="310.2" y="2170.3" font-size="21.5" fill="#000" text-anchor="middle" >10</text>
<rect x="375.8" y="2135.1" width="5.0" height="12.0" fill="#000" />
<text x="378.3" y="2170.3" font-size="21.5" fill="#000" text-anchor="middle" >15</text>
<rect x="443.9" y="2135.1" width="5.0" height="12.0" fill="#000" />
<text x="446.4" y="2170.3" font-size="21.5" fill="#000" text-anchor="middle" >20</text>
<rect x="512.0" y="2135.1" width="5.0" height="12.0" fill="#000" />
<text x="514.5" y="2170.3" font-size="21.5" fill="#000" text-anchor="middle" >25</text>
<rect x="580.1" y="2135.1" width="5.0" height="12.0" fill="#000" />
<text x="582.6" y="2170.3" font-size="21.5" fill="#000" text-anchor="middle" >30</text>
<rect x="648.2" y="2135.1" width="5.0" height="12.0" fill="#000" />
<text x="650.7" y="2170.3" font-size="21.5" fill="#000" text-anchor="middle" >35</text>
<text x="680.4" y="2170.3" font-size="21.5" fill="#000" textLength="47.3" lengthAdjust="spacingAndGlyphs" >days</text>
<text transform="translate(77.1,1974.6) rotate(-90)" font-size="29.5" text-anchor="middle" textLength="352" lengthAdjust="spacingAndGlyphs">Mean Tumor Volume (mm<tspan font-size="18" dy="-11">3</tspan><tspan dy="11">)</tspan></text>
<rect x="186.4" y="2010.0" width="4.0" height="48.0" fill="#6B6B6B" />
<path d="M177.7 2057.1 H199.1 L188.4 2090.4Z" fill="#6B6B6B"/>
<path d="M526.0 1855.4 H534.0 V2097.1 H526.0" stroke="#000" stroke-width="1.3" fill="none"/>
<text x="544.0" y="1983.0" font-size="12.5" fill="#000" textLength="60.0" lengthAdjust="spacingAndGlyphs" ><tspan font-style="italic">P</tspan> &lt; 0.0001</text>
<polyline points="187.6,2119.4 228.5,2115.1 269.3,2117.6 310.2,2117.6 351.0,2121.6 391.9,2117.6 432.8,2113.3 473.6,2105.6 514.5,2103.3 555.3,2087.5 596.2,2100.3 637.1,2094.8" fill="none" stroke="#FF0000" stroke-width="6.2" stroke-linejoin="round"/>
<path d="M228.5 2108.7 V2120.6 M221.8 2108.7 H235.2 M221.8 2120.6 H235.2" stroke="#FF0000" stroke-width="5.6" stroke-linecap="round" fill="none"/>
<path d="M269.3 2109.5 V2124.6 M262.6 2109.5 H276.0 M262.6 2124.6 H276.0" stroke="#FF0000" stroke-width="5.6" stroke-linecap="round" fill="none"/>
<path d="M310.2 2110.3 V2124.6 M303.5 2110.3 H316.9 M303.5 2124.6 H316.9" stroke="#FF0000" stroke-width="5.6" stroke-linecap="round" fill="none"/>
<path d="M351.0 2115.9 V2127.0 M344.3 2115.9 H357.7 M344.3 2127.0 H357.7" stroke="#FF0000" stroke-width="5.6" stroke-linecap="round" fill="none"/>
<path d="M391.9 2111.1 V2123.8 M385.2 2111.1 H398.6 M385.2 2123.8 H398.6" stroke="#FF0000" stroke-width="5.6" stroke-linecap="round" fill="none"/>
<path d="M432.8 2104.0 V2121.4 M426.1 2104.0 H439.5 M426.1 2121.4 H439.5" stroke="#FF0000" stroke-width="5.6" stroke-linecap="round" fill="none"/>
<path d="M473.6 2091.8 V2117.5 M466.9 2091.8 H480.3 M466.9 2117.5 H480.3" stroke="#FF0000" stroke-width="5.6" stroke-linecap="round" fill="none"/>
<path d="M514.5 2088.4 V2119.4 M507.8 2088.4 H521.2 M507.8 2119.4 H521.2" stroke="#FF0000" stroke-width="5.6" stroke-linecap="round" fill="none"/>
<path d="M555.3 2064.6 V2110.6 M548.6 2064.6 H562.0 M548.6 2110.6 H562.0" stroke="#FF0000" stroke-width="5.6" stroke-linecap="round" fill="none"/>
<path d="M596.2 2066.9 V2133.5 M589.5 2066.9 H602.9 M589.5 2133.5 H602.9" stroke="#FF0000" stroke-width="5.6" stroke-linecap="round" fill="none"/>
<path d="M637.1 2057.3 V2133.5 M630.4 2057.3 H643.8 M630.4 2133.5 H643.8" stroke="#FF0000" stroke-width="5.6" stroke-linecap="round" fill="none"/>
<circle cx="187.6" cy="2119.4" r="9.2" fill="#FF0000"/>
<circle cx="228.5" cy="2115.1" r="9.2" fill="#FF0000"/>
<circle cx="269.3" cy="2117.6" r="9.2" fill="#FF0000"/>
<circle cx="310.2" cy="2117.6" r="9.2" fill="#FF0000"/>
<circle cx="351.0" cy="2121.6" r="9.2" fill="#FF0000"/>
<circle cx="391.9" cy="2117.6" r="9.2" fill="#FF0000"/>
<circle cx="432.8" cy="2113.3" r="9.2" fill="#FF0000"/>
<circle cx="473.6" cy="2105.6" r="9.2" fill="#FF0000"/>
<circle cx="514.5" cy="2103.3" r="9.2" fill="#FF0000"/>
<circle cx="555.3" cy="2087.5" r="9.2" fill="#FF0000"/>
<circle cx="596.2" cy="2100.3" r="9.2" fill="#FF0000"/>
<circle cx="637.1" cy="2094.8" r="9.2" fill="#FF0000"/>
<polyline points="187.6,2119.4 228.5,2102.4 269.3,2081.9 310.2,2045.4 351.0,2011.0 391.9,1989.4 432.8,1948.5 473.6,1886.2 514.5,1862.5" fill="none" stroke="#0000FF" stroke-width="6.2" stroke-linejoin="round"/>
<path d="M228.5 2091.8 V2110.3 M221.8 2091.8 H235.2 M221.8 2110.3 H235.2" stroke="#0000FF" stroke-width="5.6" stroke-linecap="round" fill="none"/>
<path d="M269.3 2068.9 V2094.5 M262.6 2068.9 H276.0 M262.6 2094.5 H276.0" stroke="#0000FF" stroke-width="5.6" stroke-linecap="round" fill="none"/>
<path d="M310.2 2030.2 V2059.6 M303.5 2030.2 H316.9 M303.5 2059.6 H316.9" stroke="#0000FF" stroke-width="5.6" stroke-linecap="round" fill="none"/>
<path d="M351.0 1993.7 V2024.7 M344.3 1993.7 H357.7 M344.3 2024.7 H357.7" stroke="#0000FF" stroke-width="5.6" stroke-linecap="round" fill="none"/>
<path d="M391.9 1967.5 V2008.8 M385.2 1967.5 H398.6 M385.2 2008.8 H398.6" stroke="#0000FF" stroke-width="5.6" stroke-linecap="round" fill="none"/>
<path d="M432.8 1921.9 V1973.9 M426.1 1921.9 H439.5 M426.1 1973.9 H439.5" stroke="#0000FF" stroke-width="5.6" stroke-linecap="round" fill="none"/>
<path d="M473.6 1853.3 V1916.8 M466.9 1853.3 H480.3 M466.9 1916.8 H480.3" stroke="#0000FF" stroke-width="5.6" stroke-linecap="round" fill="none"/>
<path d="M514.5 1854.0 V1906.8 M507.8 1854.0 H521.2 M507.8 1906.8 H521.2" stroke="#0000FF" stroke-width="5.6" stroke-linecap="round" fill="none"/>
<circle cx="187.6" cy="2119.4" r="9.2" fill="#0000FF"/>
<circle cx="228.5" cy="2102.4" r="9.2" fill="#0000FF"/>
<circle cx="269.3" cy="2081.9" r="9.2" fill="#0000FF"/>
<circle cx="310.2" cy="2045.4" r="9.2" fill="#0000FF"/>
<circle cx="351.0" cy="2011.0" r="9.2" fill="#0000FF"/>
<circle cx="391.9" cy="1989.4" r="9.2" fill="#0000FF"/>
<circle cx="432.8" cy="1948.5" r="9.2" fill="#0000FF"/>
<circle cx="473.6" cy="1886.2" r="9.2" fill="#0000FF"/>
<circle cx="514.5" cy="1862.5" r="9.2" fill="#0000FF"/>
<polyline points="187.6,2119.4 228.5,2107.8 269.3,2088.4 310.2,2067.6 351.0,2021.6 391.9,2010.1 432.8,1978.6 473.6,1896.9 514.5,1848.4" fill="none" stroke="#000" stroke-width="6.2" stroke-linejoin="round"/>
<path d="M228.5 2101.6 V2113.5 M221.8 2101.6 H235.2 M221.8 2113.5 H235.2" stroke="#000" stroke-width="5.6" stroke-linecap="round" fill="none"/>
<path d="M269.3 2076.2 V2099.1 M262.6 2076.2 H276.0 M262.6 2099.1 H276.0" stroke="#000" stroke-width="5.6" stroke-linecap="round" fill="none"/>
<path d="M310.2 2056.1 V2081.0 M303.5 2056.1 H316.9 M303.5 2081.0 H316.9" stroke="#000" stroke-width="5.6" stroke-linecap="round" fill="none"/>
<path d="M351.0 2000.1 V2042.4 M344.3 2000.1 H357.7 M344.3 2042.4 H357.7" stroke="#000" stroke-width="5.6" stroke-linecap="round" fill="none"/>
<path d="M391.9 1985.2 V2033.2 M385.2 1985.2 H398.6 M385.2 2033.2 H398.6" stroke="#000" stroke-width="5.6" stroke-linecap="round" fill="none"/>
<path d="M432.8 1957.2 V2000.1 M426.1 1957.2 H439.5 M426.1 2000.1 H439.5" stroke="#000" stroke-width="5.6" stroke-linecap="round" fill="none"/>
<path d="M473.6 1866.0 V1927.1 M466.9 1866.0 H480.3 M466.9 1927.1 H480.3" stroke="#000" stroke-width="5.6" stroke-linecap="round" fill="none"/>
<path d="M514.5 1818.4 V1878.7 M507.8 1818.4 H521.2 M507.8 1878.7 H521.2" stroke="#000" stroke-width="5.6" stroke-linecap="round" fill="none"/>
<circle cx="187.6" cy="2119.4" r="9.2" fill="#000"/>
<circle cx="228.5" cy="2107.8" r="9.2" fill="#000"/>
<circle cx="269.3" cy="2088.4" r="9.2" fill="#000"/>
<circle cx="310.2" cy="2067.6" r="9.2" fill="#000"/>
<circle cx="351.0" cy="2021.6" r="9.2" fill="#000"/>
<circle cx="391.9" cy="2010.1" r="9.2" fill="#000"/>
<circle cx="432.8" cy="1978.6" r="9.2" fill="#000"/>
<circle cx="473.6" cy="1896.9" r="9.2" fill="#000"/>
<circle cx="514.5" cy="1848.4" r="9.2" fill="#000"/>
<line x1="177.7" y1="1837.9" x2="211.3" y2="1837.9" stroke="#000" stroke-width="6.3" stroke-linecap="round"/>
<circle cx="194.2" cy="1837.9" r="9.5" fill="#000"/>
<text x="231.1" y="1847.1" font-size="24.4" fill="#000" textLength="38.4" lengthAdjust="spacingAndGlyphs" >PBS</text>
<line x1="177.7" y1="1876.1" x2="211.3" y2="1876.1" stroke="#0000FF" stroke-width="6.3" stroke-linecap="round"/>
<circle cx="194.2" cy="1876.1" r="9.5" fill="#0000FF"/>
<text x="231.1" y="1885.3" font-size="24.4" fill="#000" textLength="130.4" lengthAdjust="spacingAndGlyphs" >B12-SG3249</text>
<line x1="177.7" y1="1914.3" x2="211.3" y2="1914.3" stroke="#FF0000" stroke-width="6.3" stroke-linecap="round"/>
<circle cx="194.2" cy="1914.3" r="9.5" fill="#FF0000"/>
<text x="231.1" y="1923.5" font-size="24.4" fill="#000" textLength="103.9" lengthAdjust="spacingAndGlyphs" >ADCT-301</text>
<text x="791.0" y="1235.5" font-size="38" fill="#000" font-weight="bold" >e</text>
<defs>
<linearGradient id="stemg" x1="0" y1="0" x2="0" y2="1"><stop offset="0" stop-color="#FFFBF0"/><stop offset="1" stop-color="#FDDD6E"/></linearGradient>
<clipPath id="mem1"><path d="M912 1536 Q1222 1468 1532 1540 L1532 1541 Q1222 1556 912 1537 Z"/></clipPath>
<clipPath id="mem2"><path d="M932 1855 Q1222 1788 1518 1856 L1518 1857 Q1222 1874 932 1856 Z"/></clipPath>
<linearGradient id="hf1" gradientUnits="userSpaceOnUse" x1="912" y1="0" x2="1532" y2="0"><stop offset="0" stop-color="#fff" stop-opacity="0"/><stop offset="0.3" stop-color="#fff" stop-opacity="1"/><stop offset="0.7" stop-color="#fff" stop-opacity="1"/><stop offset="1" stop-color="#fff" stop-opacity="0.1"/></linearGradient>
<linearGradient id="hf2" gradientUnits="userSpaceOnUse" x1="932" y1="0" x2="1518" y2="0"><stop offset="0" stop-color="#fff" stop-opacity="0"/><stop offset="0.3" stop-color="#fff" stop-opacity="1"/><stop offset="0.7" stop-color="#fff" stop-opacity="1"/><stop offset="1" stop-color="#fff" stop-opacity="0.1"/></linearGradient>
<mask id="mk1"><rect x="900" y="1450" width="650" height="120" fill="url(#hf1)"/></mask>
<mask id="mk2"><rect x="900" y="1770" width="650" height="120" fill="url(#hf2)"/></mask>
</defs>
<g clip-path="url(#mem1)" mask="url(#mk1)">
<path d="M912 1536 Q1222 1468 1532 1540" transform="translate(0,0.5)" stroke="#6A4A64" stroke-opacity="0.660" stroke-width="1.05" fill="none"/>
<path d="M912 1536 Q1222 1468 1532 1540" transform="translate(0,1.5)" stroke="#6A4A64" stroke-opacity="0.594" stroke-width="1.05" fill="none"/>
<path d="M912 1536 Q1222 1468 1532 1540" transform="translate(0,2.5)" stroke="#6A4A64" stroke-opacity="0.535" stroke-width="1.05" fill="none"/>
<path d="M912 1536 Q1222 1468 1532 1540" transform="translate(0,3.5)" stroke="#6A4A64" stroke-opacity="0.481" stroke-width="1.05" fill="none"/>
<path d="M912 1536 Q1222 1468 1532 1540" transform="translate(0,4.5)" stroke="#6A4A64" stroke-opacity="0.433" stroke-width="1.05" fill="none"/>
<path d="M912 1536 Q1222 1468 1532 1540" transform="translate(0,5.5)" stroke="#6A4A64" stroke-opacity="0.390" stroke-width="1.05" fill="none"/>
<path d="M912 1536 Q1222 1468 1532 1540" transform="translate(0,6.5)" stroke="#6A4A64" stroke-opacity="0.351" stroke-width="1.05" fill="none"/>
<path d="M912 1536 Q1222 1468 1532 1540" transform="translate(0,7.5)" stroke="#6A4A64" stroke-opacity="0.316" stroke-width="1.05" fill="none"/>
<path d="M912 1536 Q1222 1468 1532 1540" transform="translate(0,8.5)" stroke="#6A4A64" stroke-opacity="0.284" stroke-width="1.05" fill="none"/>
<path d="M912 1536 Q1222 1468 1532 1540" transform="translate(0,9.5)" stroke="#6A4A64" stroke-opacity="0.256" stroke-width="1.05" fill="none"/>
<path d="M912 1536 Q1222 1468 1532 1540" transform="translate(0,10.5)" stroke="#6A4A64" stroke-opacity="0.230" stroke-width="1.05" fill="none"/>
<path d="M912 1536 Q1222 1468 1532 1540" transform="translate(0,11.5)" stroke="#6A4A64" stroke-opacity="0.207" stroke-width="1.05" fill="none"/>
<path d="M912 1536 Q1222 1468 1532 1540" transform="translate(0,12.5)" stroke="#6A4A64" stroke-opacity="0.187" stroke-width="1.05" fill="none"/>
<path d="M912 1536 Q1222 1468 1532 1540" transform="translate(0,13.5)" stroke="#6A4A64" stroke-opacity="0.168" stroke-width="1.05" fill="none"/>
<path d="M912 1536 Q1222 1468 1532 1540" transform="translate(0,14.5)" stroke="#6A4A64" stroke-opacity="0.151" stroke-width="1.05" fill="none"/>
<path d="M912 1536 Q1222 1468 1532 1540" transform="translate(0,15.5)" stroke="#6A4A64" stroke-opacity="0.136" stroke-width="1.05" fill="none"/>
<path d="M912 1536 Q1222 1468 1532 1540" transform="translate(0,16.5)" stroke="#6A4A64" stroke-opacity="0.122" stroke-width="1.05" fill="none"/>
<path d="M912 1536 Q1222 1468 1532 1540" transform="translate(0,17.5)" stroke="#6A4A64" stroke-opacity="0.110" stroke-width="1.05" fill="none"/>
<path d="M912 1536 Q1222 1468 1532 1540" transform="translate(0,18.5)" stroke="#6A4A64" stroke-opacity="0.099" stroke-width="1.05" fill="none"/>
<path d="M912 1536 Q1222 1468 1532 1540" transform="translate(0,19.5)" stroke="#6A4A64" stroke-opacity="0.089" stroke-width="1.05" fill="none"/>
<path d="M912 1536 Q1222 1468 1532 1540" transform="translate(0,20.5)" stroke="#6A4A64" stroke-opacity="0.080" stroke-width="1.05" fill="none"/>
<path d="M912 1536 Q1222 1468 1532 1540" transform="translate(0,21.5)" stroke="#6A4A64" stroke-opacity="0.072" stroke-width="1.05" fill="none"/>
<path d="M912 1536 Q1222 1468 1532 1540" transform="translate(0,22.5)" stroke="#6A4A64" stroke-opacity="0.065" stroke-width="1.05" fill="none"/>
<path d="M912 1536 Q1222 1468 1532 1540" transform="translate(0,23.5)" stroke="#6A4A64" stroke-opacity="0.059" stroke-width="1.05" fill="none"/>
<path d="M912 1536 Q1222 1468 1532 1540" transform="translate(0,24.5)" stroke="#6A4A64" stroke-opacity="0.053" stroke-width="1.05" fill="none"/>
<path d="M912 1536 Q1222 1468 1532 1540" transform="translate(0,25.5)" stroke="#6A4A64" stroke-opacity="0.047" stroke-width="1.05" fill="none"/>
<path d="M912 1536 Q1222 1468 1532 1540" transform="translate(0,26.5)" stroke="#6A4A64" stroke-opacity="0.043" stroke-width="1.05" fill="none"/>
<path d="M912 1536 Q1222 1468 1532 1540" transform="translate(0,27.5)" stroke="#6A4A64" stroke-opacity="0.038" stroke-width="1.05" fill="none"/>
<path d="M912 1536 Q1222 1468 1532 1540" transform="translate(0,28.5)" stroke="#6A4A64" stroke-opacity="0.035" stroke-width="1.05" fill="none"/>
<path d="M912 1536 Q1222 1468 1532 1540" transform="translate(0,29.5)" stroke="#6A4A64" stroke-opacity="0.031" stroke-width="1.05" fill="none"/>
</g>
<g clip-path="url(#mem2)" mask="url(#mk2)">
<path d="M932 1855 Q1222 1788 1518 1856" transform="translate(0,0.5)" stroke="#6A4A64" stroke-opacity="0.660" stroke-width="1.05" fill="none"/>
<path d="M932 1855 Q1222 1788 1518 1856" transform="translate(0,1.5)" stroke="#6A4A64" stroke-opacity="0.594" stroke-width="1.05" fill="none"/>
<path d="M932 1855 Q1222 1788 1518 1856" transform="translate(0,2.5)" stroke="#6A4A64" stroke-opacity="0.535" stroke-width="1.05" fill="none"/>
<path d="M932 1855 Q1222 1788 1518 1856" transform="translate(0,3.5)" stroke="#6A4A64" stroke-opacity="0.481" stroke-width="1.05" fill="none"/>
<path d="M932 1855 Q1222 1788 1518 1856" transform="translate(0,4.5)" stroke="#6A4A64" stroke-opacity="0.433" stroke-width="1.05" fill="none"/>
<path d="M932 1855 Q1222 1788 1518 1856" transform="translate(0,5.5)" stroke="#6A4A64" stroke-opacity="0.390" stroke-width="1.05" fill="none"/>
<path d="M932 1855 Q1222 1788 1518 1856" transform="translate(0,6.5)" stroke="#6A4A64" stroke-opacity="0.351" stroke-width="1.05" fill="none"/>
<path d="M932 1855 Q1222 1788 1518 1856" transform="translate(0,7.5)" stroke="#6A4A64" stroke-opacity="0.316" stroke-width="1.05" fill="none"/>
<path d="M932 1855 Q1222 1788 1518 1856" transform="translate(0,8.5)" stroke="#6A4A64" stroke-opacity="0.284" stroke-width="1.05" fill="none"/>
<path d="M932 1855 Q1222 1788 1518 1856" transform="translate(0,9.5)" stroke="#6A4A64" stroke-opacity="0.256" stroke-width="1.05" fill="none"/>
<path d="M932 1855 Q1222 1788 1518 1856" transform="translate(0,10.5)" stroke="#6A4A64" stroke-opacity="0.230" stroke-width="1.05" fill="none"/>
<path d="M932 1855 Q1222 1788 1518 1856" transform="translate(0,11.5)" stroke="#6A4A64" stroke-opacity="0.207" stroke-width="1.05" fill="none"/>
<path d="M932 1855 Q1222 1788 1518 1856" transform="translate(0,12.5)" stroke="#6A4A64" stroke-opacity="0.187" stroke-width="1.05" fill="none"/>
<path d="M932 1855 Q1222 1788 1518 1856" transform="translate(0,13.5)" stroke="#6A4A64" stroke-opacity="0.168" stroke-width="1.05" fill="none"/>
<path d="M932 1855 Q1222 1788 1518 1856" transform="translate(0,14.5)" stroke="#6A4A64" stroke-opacity="0.151" stroke-width="1.05" fill="none"/>
<path d="M932 1855 Q1222 1788 1518 1856" transform="translate(0,15.5)" stroke="#6A4A64" stroke-opacity="0.136" stroke-width="1.05" fill="none"/>
<path d="M932 1855 Q1222 1788 1518 1856" transform="translate(0,16.5)" stroke="#6A4A64" stroke-opacity="0.122" stroke-width="1.05" fill="none"/>
<path d="M932 1855 Q1222 1788 1518 1856" transform="translate(0,17.5)" stroke="#6A4A64" stroke-opacity="0.110" stroke-width="1.05" fill="none"/>
<path d="M932 1855 Q1222 1788 1518 1856" transform="translate(0,18.5)" stroke="#6A4A64" stroke-opacity="0.099" stroke-width="1.05" fill="none"/>
<path d="M932 1855 Q1222 1788 1518 1856" transform="translate(0,19.5)" stroke="#6A4A64" stroke-opacity="0.089" stroke-width="1.05" fill="none"/>
<path d="M932 1855 Q1222 1788 1518 1856" transform="translate(0,20.5)" stroke="#6A4A64" stroke-opacity="0.080" stroke-width="1.05" fill="none"/>
<path d="M932 1855 Q1222 1788 1518 1856" transform="translate(0,21.5)" stroke="#6A4A64" stroke-opacity="0.072" stroke-width="1.05" fill="none"/>
<path d="M932 1855 Q1222 1788 1518 1856" transform="translate(0,22.5)" stroke="#6A4A64" stroke-opacity="0.065" stroke-width="1.05" fill="none"/>
<path d="M932 1855 Q1222 1788 1518 1856" transform="translate(0,23.5)" stroke="#6A4A64" stroke-opacity="0.059" stroke-width="1.05" fill="none"/>
<path d="M932 1855 Q1222 1788 1518 1856" transform="translate(0,24.5)" stroke="#6A4A64" stroke-opacity="0.053" stroke-width="1.05" fill="none"/>
<path d="M932 1855 Q1222 1788 1518 1856" transform="translate(0,25.5)" stroke="#6A4A64" stroke-opacity="0.047" stroke-width="1.05" fill="none"/>
<path d="M932 1855 Q1222 1788 1518 1856" transform="translate(0,26.5)" stroke="#6A4A64" stroke-opacity="0.043" stroke-width="1.05" fill="none"/>
<path d="M932 1855 Q1222 1788 1518 1856" transform="translate(0,27.5)" stroke="#6A4A64" stroke-opacity="0.038" stroke-width="1.05" fill="none"/>
<path d="M932 1855 Q1222 1788 1518 1856" transform="translate(0,28.5)" stroke="#6A4A64" stroke-opacity="0.035" stroke-width="1.05" fill="none"/>
<path d="M932 1855 Q1222 1788 1518 1856" transform="translate(0,29.5)" stroke="#6A4A64" stroke-opacity="0.031" stroke-width="1.05" fill="none"/>
</g>
<rect x="926.3" y="1349.4" width="128.7" height="51.8" rx="6" fill="#E21A00"/>
<text x="929.4" y="1386.8" font-size="34.6" fill="#F6EFF3" font-weight="bold" textLength="123.2" lengthAdjust="spacingAndGlyphs" >ADCT-301</text>
<path d="M1070.3 1406.5 L1140 1440" stroke="#E21A00" stroke-width="5.5"/>
<path d="M1146.2 1422.5 L1133.2 1449" stroke="#E21A00" stroke-width="5.5"/>
<path d="M1171.5 1408 C1184 1380 1237 1380 1250.5 1408 C1253 1414 1247 1421 1238.7 1428.5 A34 34 0 0 0 1183.4 1428.5 C1175 1421 1169 1414 1171.5 1408 Z" fill="#FEDF70"/>
<path d="M1204.6 1478 V1579 A6.5 6.5 0 0 0 1217.6 1579 V1478 Z" fill="url(#stemg)"/>
<path d="M1177 1443 C1174 1431 1156 1428 1150 1441 C1144 1456 1151 1478 1170 1488 C1178 1492 1186 1492 1190 1494 V1531.5 A7.15 7.15 0 0 0 1204.3 1531.5 V1481 A34.5 34.5 0 0 1 1177 1443 Z" fill="#F25C54"/>
<path d="M1244.6 1443 C1247.6 1431 1265.6 1428 1271.6 1441 C1277.6 1456 1270.6 1478 1251.6 1488 C1243.6 1492 1235.6 1492 1231.6 1494 V1554 A7.3 7.3 0 0 1 1217 1554 V1481 A34.5 34.5 0 0 0 1244.6 1443 Z" fill="#80D084"/>
<circle cx="1210.8" cy="1446.8" r="31.2" fill="#36CBFA" stroke="#fff" stroke-width="2.6"/>
<text x="1211.5" y="1457.7" font-size="27.5" fill="#000" font-weight="bold" text-anchor="middle" textLength="45.6" lengthAdjust="spacingAndGlyphs" >IL-2</text>
<text x="1210.5" y="1404.5" font-size="19" fill="#000" font-weight="bold" font-style="italic" text-anchor="middle" >β</text>
<text x="1167.5" y="1469.0" font-size="21" fill="#000" font-weight="bold" font-style="italic" text-anchor="middle" >α</text>
<text x="1256.0" y="1468.0" font-size="20" fill="#000" font-weight="bold" font-style="italic" text-anchor="middle" >γ</text>
<text x="815.7" y="1514.9" font-size="32.8" fill="#231F20" font-weight="bold" textLength="149.8" lengthAdjust="spacingAndGlyphs" >ALCL cells</text>
<text x="871.8" y="1622.2" font-size="32.8" fill="#231F20" font-weight="bold" textLength="144.8" lengthAdjust="spacingAndGlyphs" >cytoplasm</text>
<text x="871.8" y="1932.8" font-size="32.8" fill="#231F20" font-weight="bold" textLength="107.5" lengthAdjust="spacingAndGlyphs" >nucleus</text>
<path d="M1182.5 1608.9 L1139.5 1653.5 M1151.9 1628.7 L1139.5 1653.5 L1164.5 1641.9" stroke="#4F72A8" stroke-width="2.8" fill="none"/>
<path d="M1213.5 1606.2 L1213.5 1660 M1204.1 1633.2 L1213.5 1660 L1223.5 1633.2" stroke="#4F72A8" stroke-width="2.8" fill="none"/>
<path d="M1244.1 1608 L1290.4 1653.5 M1278.8 1628.7 L1290.4 1653.5 L1265.3 1641.9" stroke="#4F72A8" stroke-width="2.8" fill="none"/>
<ellipse cx="1107.8" cy="1707.1" rx="31.6" ry="26.1" fill="#8E1A90"/>
<text x="1107.8" y="1718.2" font-size="31.8" fill="#F7EEF5" font-weight="bold" text-anchor="middle" textLength="53.0" lengthAdjust="spacingAndGlyphs" >STAT1</text>
<ellipse cx="1210" cy="1707.1" rx="31.6" ry="26.1" fill="#8E1A90"/>
<text x="1210.0" y="1718.2" font-size="31.8" fill="#F7EEF5" font-weight="bold" text-anchor="middle" textLength="57.6" lengthAdjust="spacingAndGlyphs" >STAT5</text>
<ellipse cx="1310.7" cy="1707.1" rx="31.6" ry="26.1" fill="#CB44AA"/>
<text x="1310.7" y="1718.2" font-size="31.8" fill="#F7EEF5" font-weight="bold" text-anchor="middle" textLength="53.2" lengthAdjust="spacingAndGlyphs" >ERK1/2</text>
<circle cx="1142.3" cy="1682" r="13" fill="#FFDD00"/>
<text x="1142.8" y="1691.8" font-size="21" fill="#FFF9EE" font-weight="bold" text-anchor="middle" >P</text>
<circle cx="1244.1" cy="1682" r="13" fill="#FFDD00"/>
<text x="1244.6" y="1691.8" font-size="21" fill="#FFF9EE" font-weight="bold" text-anchor="middle" >P</text>
<circle cx="1345" cy="1682" r="13" fill="#FFDD00"/>
<text x="1345.5" y="1691.8" font-size="21" fill="#FFF9EE" font-weight="bold" text-anchor="middle" >P</text>
<text x="1060.0" y="1780.0" font-size="27" fill="#EB2114" font-weight="bold" textLength="302.6" lengthAdjust="spacingAndGlyphs" >cell growth and survival</text>
<polyline points="1037.4,2014.1 1039.4,2015.2 1041.4,2016.3 1043.4,2017.3 1045.4,2018.2 1047.4,2019.0 1049.4,2019.7 1051.4,2020.4 1053.4,2020.9 1055.4,2021.3 1057.4,2021.6 1059.4,2021.9 1061.4,2022.0 1063.4,2022.0 1065.4,2021.9 1067.4,2021.7 1069.4,2021.4 1071.4,2021.0 1073.4,2020.5 1075.4,2019.9 1077.4,2019.2 1079.4,2018.4 1081.4,2017.6 1083.4,2016.6 1085.4,2015.6 1087.4,2014.4 1089.4,2013.2 1091.4,2012.0 1093.4,2010.7 1095.4,2009.3 1097.4,2007.8 1099.4,2006.4 1101.4,2004.8 1103.4,2003.3 1105.4,2001.7 1107.4,2000.1 1109.4,1998.5 1111.4,1996.8 1113.4,1995.2 1115.4,1993.6 1117.4,1992.0 1119.4,1990.4 1121.4,1988.8 1123.4,1987.3 1125.4,1985.8 1127.4,1984.3 1129.4,1982.9 1131.4,1981.5 1133.4,1980.2 1135.4,1979.0 1137.4,1977.9 1139.4,1976.8 1141.4,1975.8 1143.4,1974.9 1145.4,1974.1 1147.4,1973.3 1149.4,1972.7 1151.4,1972.2 1153.4,1971.7 1155.4,1971.4 1157.4,1971.2 1159.4,1971.0 1161.4,1971.0 1163.4,1971.1 1165.4,1971.3 1167.4,1971.5 1169.4,1971.9 1171.4,1972.4 1173.4,1973.0 1175.4,1973.7 1177.4,1974.5 1179.4,1975.3 1181.4,1976.3 1183.4,1977.3 1185.4,1978.4 1187.4,1979.6 1189.4,1980.9 1191.4,1982.2 1193.4,1983.6 1195.4,1985.0 1197.4,1986.5 1199.4,1988.0 1201.4,1989.6 1203.4,1991.2 1205.4,1992.8 1207.4,1994.4 1209.4,1996.0 1211.4,1997.6 1213.4,1999.3 1215.4,2000.9 1217.4,2002.5 1219.4,2004.1 1221.4,2005.6 1223.4,2007.1 1225.4,2008.6 1227.4,2010.0 1229.4,2011.3 1231.4,2012.6 1233.4,2013.9 1235.4,2015.0 1237.4,2016.1 1239.4,2017.1 1241.4,2018.0 1243.4,2018.9 1245.4,2019.6 1247.4,2020.2 1249.4,2020.8 1251.4,2021.2 1253.4,2021.6 1255.4,2021.8 1257.4,2022.0 1259.4,2022.0 1261.4,2021.9 1263.4,2021.8 1265.4,2021.5 1267.4,2021.1 1269.4,2020.6 1271.4,2020.1 1273.4,2019.4 1275.4,2018.6 1277.4,2017.8 1279.4,2016.8 1281.4,2015.8 1283.4,2014.7 1285.4,2013.5 1287.4,2012.2 1289.4,2010.9 1291.4,2009.6 1293.4,2008.1 1295.4,2006.7 1297.4,2005.1 1299.4,2003.6 1301.4,2002.0 1303.4,2000.4 1305.4,1998.8 1307.4,1997.2 1309.4,1995.5 1311.4,1993.9 1313.4,1992.3 1315.4,1990.7 1317.4,1989.1 1319.4,1987.6 1321.4,1986.0 1323.4,1984.6 1325.4,1983.2 1327.4,1981.8 1329.4,1980.5 1331.4,1979.3 1333.4,1978.1 1335.4,1977.0 1337.4,1976.0 1339.4,1975.1 1341.4,1974.2 1343.4,1973.5 1345.4,1972.8 1347.4,1972.3 1349.4,1971.8 1351.4,1971.5 1353.4,1971.2 1355.4,1971.0 1357.4,1971.0 1359.4,1971.1 1361.4,1971.2 1363.4,1971.5 1365.4,1971.9 1367.4,1972.3 1369.4,1972.9 1371.4,1973.6 1373.4,1974.3 1375.4,1975.2 1377.4,1976.1 1379.4,1977.1 1381.4,1978.2" stroke="#4F72A8" stroke-width="3.4" fill="none" stroke-linecap="round"/>
<polyline points="1037.4,1978.9 1039.4,1977.8 1041.4,1976.7 1043.4,1975.7 1045.4,1974.8 1047.4,1974.0 1049.4,1973.3 1051.4,1972.6 1053.4,1972.1 1055.4,1971.7 1057.4,1971.4 1059.4,1971.1 1061.4,1971.0 1063.4,1971.0 1065.4,1971.1 1067.4,1971.3 1069.4,1971.6 1071.4,1972.0 1073.4,1972.5 1075.4,1973.1 1077.4,1973.8 1079.4,1974.6 1081.4,1975.4 1083.4,1976.4 1085.4,1977.4 1087.4,1978.6 1089.4,1979.8 1091.4,1981.0 1093.4,1982.3 1095.4,1983.7 1097.4,1985.2 1099.4,1986.6 1101.4,1988.2 1103.4,1989.7 1105.4,1991.3 1107.4,1992.9 1109.4,1994.5 1111.4,1996.2 1113.4,1997.8 1115.4,1999.4 1117.4,2001.0 1119.4,2002.6 1121.4,2004.2 1123.4,2005.7 1125.4,2007.2 1127.4,2008.7 1129.4,2010.1 1131.4,2011.5 1133.4,2012.8 1135.4,2014.0 1137.4,2015.1 1139.4,2016.2 1141.4,2017.2 1143.4,2018.1 1145.4,2018.9 1147.4,2019.7 1149.4,2020.3 1151.4,2020.8 1153.4,2021.3 1155.4,2021.6 1157.4,2021.8 1159.4,2022.0 1161.4,2022.0 1163.4,2021.9 1165.4,2021.7 1167.4,2021.5 1169.4,2021.1 1171.4,2020.6 1173.4,2020.0 1175.4,2019.3 1177.4,2018.5 1179.4,2017.7 1181.4,2016.7 1183.4,2015.7 1185.4,2014.6 1187.4,2013.4 1189.4,2012.1 1191.4,2010.8 1193.4,2009.4 1195.4,2008.0 1197.4,2006.5 1199.4,2005.0 1201.4,2003.4 1203.4,2001.8 1205.4,2000.2 1207.4,1998.6 1209.4,1997.0 1211.4,1995.4 1213.4,1993.7 1215.4,1992.1 1217.4,1990.5 1219.4,1988.9 1221.4,1987.4 1223.4,1985.9 1225.4,1984.4 1227.4,1983.0 1229.4,1981.7 1231.4,1980.4 1233.4,1979.1 1235.4,1978.0 1237.4,1976.9 1239.4,1975.9 1241.4,1975.0 1243.4,1974.1 1245.4,1973.4 1247.4,1972.8 1249.4,1972.2 1251.4,1971.8 1253.4,1971.4 1255.4,1971.2 1257.4,1971.0 1259.4,1971.0 1261.4,1971.1 1263.4,1971.2 1265.4,1971.5 1267.4,1971.9 1269.4,1972.4 1271.4,1972.9 1273.4,1973.6 1275.4,1974.4 1277.4,1975.2 1279.4,1976.2 1281.4,1977.2 1283.4,1978.3 1285.4,1979.5 1287.4,1980.8 1289.4,1982.1 1291.4,1983.4 1293.4,1984.9 1295.4,1986.3 1297.4,1987.9 1299.4,1989.4 1301.4,1991.0 1303.4,1992.6 1305.4,1994.2 1307.4,1995.8 1309.4,1997.5 1311.4,1999.1 1313.4,2000.7 1315.4,2002.3 1317.4,2003.9 1319.4,2005.4 1321.4,2007.0 1323.4,2008.4 1325.4,2009.8 1327.4,2011.2 1329.4,2012.5 1331.4,2013.7 1333.4,2014.9 1335.4,2016.0 1337.4,2017.0 1339.4,2017.9 1341.4,2018.8 1343.4,2019.5 1345.4,2020.2 1347.4,2020.7 1349.4,2021.2 1351.4,2021.5 1353.4,2021.8 1355.4,2022.0 1357.4,2022.0 1359.4,2021.9 1361.4,2021.8 1363.4,2021.5 1365.4,2021.1 1367.4,2020.7 1369.4,2020.1 1371.4,2019.4 1373.4,2018.7 1375.4,2017.8 1377.4,2016.9 1379.4,2015.9 1381.4,2014.8" stroke="#4F72A8" stroke-width="3.4" fill="none" stroke-linecap="round"/>
<line x1="1042.4" y1="1976.2" x2="1042.4" y2="2016.8" stroke="#4F72A8" stroke-width="2.6"/>
<line x1="1058.7" y1="1971.2" x2="1058.7" y2="2021.8" stroke="#4F72A8" stroke-width="2.6"/>
<line x1="1075.0" y1="1972.9" x2="1075.0" y2="2020.1" stroke="#4F72A8" stroke-width="2.6"/>
<line x1="1091.3" y1="1980.9" x2="1091.3" y2="2012.1" stroke="#4F72A8" stroke-width="2.6"/>
<line x1="1123.9" y1="1986.9" x2="1123.9" y2="2006.1" stroke="#4F72A8" stroke-width="2.6"/>
<line x1="1140.2" y1="1976.4" x2="1140.2" y2="2016.6" stroke="#4F72A8" stroke-width="2.6"/>
<line x1="1156.5" y1="1971.3" x2="1156.5" y2="2021.7" stroke="#4F72A8" stroke-width="2.6"/>
<line x1="1172.8" y1="1972.8" x2="1172.8" y2="2020.2" stroke="#4F72A8" stroke-width="2.6"/>
<line x1="1189.1" y1="1980.7" x2="1189.1" y2="2012.3" stroke="#4F72A8" stroke-width="2.6"/>
<line x1="1221.7" y1="1987.2" x2="1221.7" y2="2005.8" stroke="#4F72A8" stroke-width="2.6"/>
<line x1="1238.0" y1="1976.6" x2="1238.0" y2="2016.4" stroke="#4F72A8" stroke-width="2.6"/>
<line x1="1254.3" y1="1971.3" x2="1254.3" y2="2021.7" stroke="#4F72A8" stroke-width="2.6"/>
<line x1="1270.6" y1="1972.7" x2="1270.6" y2="2020.3" stroke="#4F72A8" stroke-width="2.6"/>
<line x1="1286.9" y1="1980.4" x2="1286.9" y2="2012.6" stroke="#4F72A8" stroke-width="2.6"/>
<line x1="1319.5" y1="1987.5" x2="1319.5" y2="2005.5" stroke="#4F72A8" stroke-width="2.6"/>
<line x1="1335.8" y1="1976.8" x2="1335.8" y2="2016.2" stroke="#4F72A8" stroke-width="2.6"/>
<line x1="1352.1" y1="1971.4" x2="1352.1" y2="2021.6" stroke="#4F72A8" stroke-width="2.6"/>
<line x1="1368.4" y1="1972.6" x2="1368.4" y2="2020.4" stroke="#4F72A8" stroke-width="2.6"/>
<polyline points="1125.8,2116.3 1127.8,2117.1 1129.8,2117.8 1131.8,2118.3 1133.8,2118.8 1135.8,2119.2 1137.8,2119.4 1139.8,2119.6 1141.8,2119.6 1143.8,2119.5 1145.8,2119.3 1147.8,2118.9 1149.8,2118.5 1151.8,2117.9 1153.8,2117.3 1155.8,2116.5 1157.8,2115.7 1159.8,2114.7 1161.8,2113.7 1163.8,2112.6 1165.8,2111.4 1167.8,2110.2 1169.8,2108.9 1171.8,2107.6 1173.8,2106.3 1175.8,2104.9 1177.8,2103.5 1179.8,2102.2 1181.8,2100.8 1183.8,2099.4 1185.8,2098.1 1187.8,2096.8 1189.8,2095.6 1191.8,2094.4 1193.8,2093.3 1195.8,2092.3 1197.8,2091.3 1199.8,2090.4 1201.8,2089.7 1203.8,2089.0 1205.8,2088.4 1207.8,2087.9 1209.8,2087.6 1211.8,2087.3 1213.8,2087.2 1215.8,2087.2 1217.8,2087.3 1219.8,2087.6 1221.8,2087.9 1223.8,2088.3 1225.8,2088.9 1227.8,2089.6 1229.8,2090.4 1231.8,2091.2 1233.8,2092.2 1235.8,2093.2 1237.8,2094.3 1239.8,2095.5 1241.8,2096.7 1243.8,2098.0 1245.8,2099.3 1247.8,2100.7 1249.8,2102.0 1251.8,2103.4 1253.8,2104.8 1255.8,2106.1 1257.8,2107.5 1259.8,2108.8 1261.8,2110.1 1263.8,2111.3 1265.8,2112.5 1267.8,2113.6 1269.8,2114.6 1271.8,2115.6 1273.8,2116.4 1275.8,2117.2 1277.8,2117.9 1279.8,2118.5 1281.8,2118.9 1283.8,2119.2 1285.8,2119.5 1287.8,2119.6 1289.8,2119.6 1291.8,2119.5 1293.8,2119.2 1295.8,2118.9 1297.8,2118.4 1299.8,2117.8 1301.8,2117.1 1303.8,2116.4 1305.8,2115.5 1307.8,2114.5 1309.8,2113.5 1311.8,2112.4 1313.8,2111.2 1315.8,2110.0 1317.8,2108.7 1319.8,2107.4 1321.8,2106.0 1323.8,2104.6 1325.8,2103.3 1327.8,2101.9 1329.8,2100.5 1331.8,2099.2 1333.8,2097.9 1335.8,2096.6 1337.8,2095.4 1339.8,2094.2 1341.8,2093.1 1343.8,2092.1 1345.8,2091.1 1347.8,2090.3 1349.8,2089.5 1351.8,2088.9 1353.8,2088.3 1355.8,2087.9 1357.8,2087.5 1359.8,2087.3 1361.8,2087.2 1363.8,2087.2 1365.8,2087.4 1367.8,2087.6 1369.8,2088.0 1371.8,2088.5 1373.8,2089.0 1375.8,2089.7 1377.8,2090.5 1379.8,2091.4" stroke="#4F72A8" stroke-width="3.0" fill="none" stroke-linecap="round"/>
<polyline points="1125.8,2090.5 1127.8,2089.7 1129.8,2089.0 1131.8,2088.5 1133.8,2088.0 1135.8,2087.6 1137.8,2087.4 1139.8,2087.2 1141.8,2087.2 1143.8,2087.3 1145.8,2087.5 1147.8,2087.9 1149.8,2088.3 1151.8,2088.9 1153.8,2089.5 1155.8,2090.3 1157.8,2091.1 1159.8,2092.1 1161.8,2093.1 1163.8,2094.2 1165.8,2095.4 1167.8,2096.6 1169.8,2097.9 1171.8,2099.2 1173.8,2100.5 1175.8,2101.9 1177.8,2103.3 1179.8,2104.6 1181.8,2106.0 1183.8,2107.4 1185.8,2108.7 1187.8,2110.0 1189.8,2111.2 1191.8,2112.4 1193.8,2113.5 1195.8,2114.5 1197.8,2115.5 1199.8,2116.4 1201.8,2117.1 1203.8,2117.8 1205.8,2118.4 1207.8,2118.9 1209.8,2119.2 1211.8,2119.5 1213.8,2119.6 1215.8,2119.6 1217.8,2119.5 1219.8,2119.2 1221.8,2118.9 1223.8,2118.5 1225.8,2117.9 1227.8,2117.2 1229.8,2116.4 1231.8,2115.6 1233.8,2114.6 1235.8,2113.6 1237.8,2112.5 1239.8,2111.3 1241.8,2110.1 1243.8,2108.8 1245.8,2107.5 1247.8,2106.1 1249.8,2104.8 1251.8,2103.4 1253.8,2102.0 1255.8,2100.7 1257.8,2099.3 1259.8,2098.0 1261.8,2096.7 1263.8,2095.5 1265.8,2094.3 1267.8,2093.2 1269.8,2092.2 1271.8,2091.2 1273.8,2090.4 1275.8,2089.6 1277.8,2088.9 1279.8,2088.3 1281.8,2087.9 1283.8,2087.6 1285.8,2087.3 1287.8,2087.2 1289.8,2087.2 1291.8,2087.3 1293.8,2087.6 1295.8,2087.9 1297.8,2088.4 1299.8,2089.0 1301.8,2089.7 1303.8,2090.4 1305.8,2091.3 1307.8,2092.3 1309.8,2093.3 1311.8,2094.4 1313.8,2095.6 1315.8,2096.8 1317.8,2098.1 1319.8,2099.4 1321.8,2100.8 1323.8,2102.2 1325.8,2103.5 1327.8,2104.9 1329.8,2106.3 1331.8,2107.6 1333.8,2108.9 1335.8,2110.2 1337.8,2111.4 1339.8,2112.6 1341.8,2113.7 1343.8,2114.7 1345.8,2115.7 1347.8,2116.5 1349.8,2117.3 1351.8,2117.9 1353.8,2118.5 1355.8,2118.9 1357.8,2119.3 1359.8,2119.5 1361.8,2119.6 1363.8,2119.6 1365.8,2119.4 1367.8,2119.2 1369.8,2118.8 1371.8,2118.3 1373.8,2117.8 1375.8,2117.1 1377.8,2116.3 1379.8,2115.4" stroke="#4F72A8" stroke-width="3.0" fill="none" stroke-linecap="round"/>
<line x1="1130.8" y1="2088.7" x2="1130.8" y2="2118.1" stroke="#4F72A8" stroke-width="2.3"/>
<line x1="1145.2" y1="2087.4" x2="1145.2" y2="2119.4" stroke="#4F72A8" stroke-width="2.3"/>
<line x1="1159.6" y1="2092.0" x2="1159.6" y2="2114.8" stroke="#4F72A8" stroke-width="2.3"/>
<line x1="1188.4" y1="2096.5" x2="1188.4" y2="2110.3" stroke="#4F72A8" stroke-width="2.3"/>
<line x1="1202.8" y1="2089.3" x2="1202.8" y2="2117.5" stroke="#4F72A8" stroke-width="2.3"/>
<line x1="1217.2" y1="2087.3" x2="1217.2" y2="2119.5" stroke="#4F72A8" stroke-width="2.3"/>
<line x1="1231.6" y1="2091.1" x2="1231.6" y2="2115.7" stroke="#4F72A8" stroke-width="2.3"/>
<line x1="1260.4" y1="2097.6" x2="1260.4" y2="2109.2" stroke="#4F72A8" stroke-width="2.3"/>
<line x1="1274.8" y1="2090.0" x2="1274.8" y2="2116.8" stroke="#4F72A8" stroke-width="2.3"/>
<line x1="1289.2" y1="2087.2" x2="1289.2" y2="2119.6" stroke="#4F72A8" stroke-width="2.3"/>
<line x1="1303.6" y1="2090.4" x2="1303.6" y2="2116.4" stroke="#4F72A8" stroke-width="2.3"/>
<line x1="1318.0" y1="2098.2" x2="1318.0" y2="2108.6" stroke="#4F72A8" stroke-width="2.3"/>
<line x1="1346.8" y1="2090.7" x2="1346.8" y2="2116.1" stroke="#4F72A8" stroke-width="2.3"/>
<line x1="1361.2" y1="2087.2" x2="1361.2" y2="2119.6" stroke="#4F72A8" stroke-width="2.3"/>
<line x1="1375.6" y1="2089.7" x2="1375.6" y2="2117.1" stroke="#4F72A8" stroke-width="2.3"/>
<rect x="1036.3" y="1955.3" width="162.7" height="21.4" rx="7" fill="#EE8070"/>
<text x="1043.2" y="1972.4" font-size="20.5" fill="#FFF8F5" font-weight="bold" textLength="149.0" lengthAdjust="spacingAndGlyphs" >super-enhancer</text>
<ellipse cx="1115.3" cy="1936" rx="32.5" ry="22" fill="#C6004F"/>
<text x="1117.5" y="1947.6" font-size="33" fill="#FFF4F7" font-weight="bold" text-anchor="middle" textLength="57.0" lengthAdjust="spacingAndGlyphs" >BATF3</text>
<path d="M1202.5 1967.4 C1230 1945 1280 1938 1316 1972" stroke="#4F72A8" stroke-width="2.6" stroke-dasharray="3 2.4" fill="none"/>
<path d="M1304.7 1951.1 L1317.5 1974.4 L1293.1 1965.1" stroke="#4F72A8" stroke-width="2.6" fill="none"/>
<path d="M1323.3 1976.7 V1944.2 H1402" stroke="#4F72A8" stroke-width="2.8" fill="none"/>
<path d="M1377.9 1934.9 L1403.5 1944.2 L1377.9 1953.9" stroke="#4F72A8" stroke-width="2.8" fill="none"/>
<path d="M1337.3 2089.4 V2067.8 H1395" stroke="#4F72A8" stroke-width="2.5" fill="none"/>
<path d="M1376.8 2062.2 L1396.5 2067.8 L1376.8 2073.2" stroke="#4F72A8" stroke-width="2.5" fill="none"/>
<text x="1422.9" y="1953.4" font-size="30" fill="#231F20" font-weight="bold" font-style="italic" textLength="52.9" lengthAdjust="spacingAndGlyphs" >IL2R</text>
<text x="1422.9" y="1986.2" font-size="30" fill="#231F20" font-weight="bold" font-style="italic" textLength="72.0" lengthAdjust="spacingAndGlyphs" >BATF3</text>
<text x="1422.9" y="2015.5" font-size="30" fill="#231F20" font-weight="bold" font-style="italic" textLength="203.0" lengthAdjust="spacingAndGlyphs" >TNFRSF8 (CD30)</text>
<text x="1040.9" y="2076.6" font-size="20.5" fill="#231F20" textLength="91.8" lengthAdjust="spacingAndGlyphs" >AP-1/IRF4</text>
<ellipse cx="1197.8" cy="2076.2" rx="24.2" ry="14.8" fill="#C6004F"/>
<text x="1197.8" y="2084.5" font-size="21" fill="#FFF6F8" font-weight="bold" text-anchor="middle" textLength="42.0" lengthAdjust="spacingAndGlyphs" >BATF3</text>
<ellipse cx="1245.8" cy="2076.2" rx="24.2" ry="14.8" fill="#5FAFB5"/>
<text x="1245.8" y="2084.5" font-size="21" fill="#FFF6F8" font-weight="bold" text-anchor="middle" textLength="42.0" lengthAdjust="spacingAndGlyphs" >JUN (B)</text>
<ellipse cx="1294" cy="2076.2" rx="24.2" ry="14.8" fill="#C9925E"/>
<text x="1294.0" y="2084.5" font-size="21" fill="#FFF6F8" font-weight="bold" text-anchor="middle" textLength="25.0" lengthAdjust="spacingAndGlyphs" >IRF4</text>
<text x="1423.0" y="2076.6" font-size="20.5" fill="#231F20" textLength="58.4" lengthAdjust="spacingAndGlyphs" >BATF3</text>
<text x="1424.5" y="2104.0" font-size="20.5" fill="#231F20" textLength="53.0" lengthAdjust="spacingAndGlyphs" >target</text>
<text x="1428.0" y="2131.5" font-size="20.5" fill="#231F20" textLength="50.0" lengthAdjust="spacingAndGlyphs" >genes</text>
<path d="M1499.8 1928 C1560 1870 1600 1790 1598 1717 C1596 1590 1500 1470 1322 1421" stroke="#000" stroke-width="3.4" fill="none"/>
<path d="M1276.5 1415.4 L1324.6 1409.8 L1320.3 1434.4 Z" fill="#000"/>
</svg>
</body></html>
